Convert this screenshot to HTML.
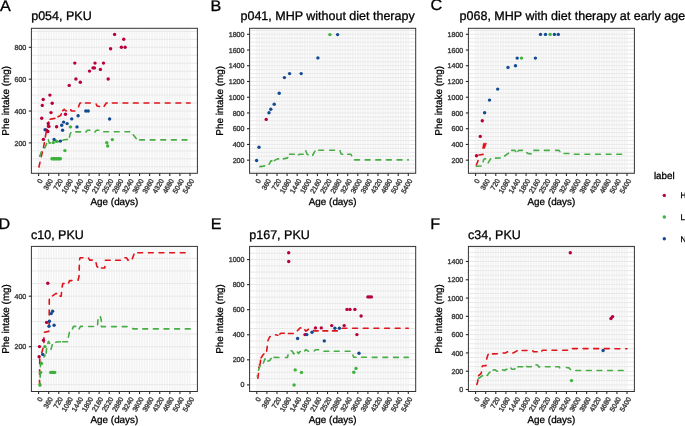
<!DOCTYPE html><html><head><meta charset="utf-8"><style>html,body{margin:0;padding:0;background:#fff;width:685px;height:426px;overflow:hidden}svg{display:block;will-change:transform} text{text-rendering:geometricPrecision} .t{stroke-width:0.35px} .tk{stroke:#444;stroke-width:0.4px} .tb{stroke:#000;stroke-width:0.3px}</style></head><body>
<svg width="685" height="426" viewBox="0 0 685 426" font-family='"Liberation Sans", sans-serif'>
<rect width="685" height="426" fill="#fff"/>
<g id="pA">
<rect x="38.10" y="28.3" width="152.40" height="145.00" fill="#F3F3F3"/>
<line x1="39.86" x2="39.86" y1="28.3" y2="173.3" stroke="#FDFDFD" stroke-width="1.0"/>
<line x1="42.39" x2="42.39" y1="28.3" y2="173.3" stroke="#FDFDFD" stroke-width="1.0"/>
<line x1="44.91" x2="44.91" y1="28.3" y2="173.3" stroke="#FDFDFD" stroke-width="1.0"/>
<line x1="47.43" x2="47.43" y1="28.3" y2="173.3" stroke="#FDFDFD" stroke-width="1.0"/>
<line x1="49.95" x2="49.95" y1="28.3" y2="173.3" stroke="#FDFDFD" stroke-width="1.0"/>
<line x1="52.48" x2="52.48" y1="28.3" y2="173.3" stroke="#FDFDFD" stroke-width="1.0"/>
<line x1="55.00" x2="55.00" y1="28.3" y2="173.3" stroke="#FDFDFD" stroke-width="1.0"/>
<line x1="57.53" x2="57.53" y1="28.3" y2="173.3" stroke="#FDFDFD" stroke-width="1.0"/>
<line x1="60.05" x2="60.05" y1="28.3" y2="173.3" stroke="#FDFDFD" stroke-width="1.0"/>
<line x1="62.57" x2="62.57" y1="28.3" y2="173.3" stroke="#FDFDFD" stroke-width="1.0"/>
<line x1="65.09" x2="65.09" y1="28.3" y2="173.3" stroke="#FDFDFD" stroke-width="1.0"/>
<line x1="67.62" x2="67.62" y1="28.3" y2="173.3" stroke="#FDFDFD" stroke-width="1.0"/>
<line x1="70.14" x2="70.14" y1="28.3" y2="173.3" stroke="#FDFDFD" stroke-width="1.0"/>
<line x1="72.67" x2="72.67" y1="28.3" y2="173.3" stroke="#FDFDFD" stroke-width="1.0"/>
<line x1="75.19" x2="75.19" y1="28.3" y2="173.3" stroke="#FDFDFD" stroke-width="1.0"/>
<line x1="77.71" x2="77.71" y1="28.3" y2="173.3" stroke="#FDFDFD" stroke-width="1.0"/>
<line x1="80.24" x2="80.24" y1="28.3" y2="173.3" stroke="#FDFDFD" stroke-width="1.0"/>
<line x1="82.76" x2="82.76" y1="28.3" y2="173.3" stroke="#FDFDFD" stroke-width="1.0"/>
<line x1="85.28" x2="85.28" y1="28.3" y2="173.3" stroke="#FDFDFD" stroke-width="1.0"/>
<line x1="87.81" x2="87.81" y1="28.3" y2="173.3" stroke="#FDFDFD" stroke-width="1.0"/>
<line x1="90.33" x2="90.33" y1="28.3" y2="173.3" stroke="#FDFDFD" stroke-width="1.0"/>
<line x1="92.85" x2="92.85" y1="28.3" y2="173.3" stroke="#FDFDFD" stroke-width="1.0"/>
<line x1="95.38" x2="95.38" y1="28.3" y2="173.3" stroke="#FDFDFD" stroke-width="1.0"/>
<line x1="97.90" x2="97.90" y1="28.3" y2="173.3" stroke="#FDFDFD" stroke-width="1.0"/>
<line x1="100.42" x2="100.42" y1="28.3" y2="173.3" stroke="#FDFDFD" stroke-width="1.0"/>
<line x1="102.94" x2="102.94" y1="28.3" y2="173.3" stroke="#FDFDFD" stroke-width="1.0"/>
<line x1="105.47" x2="105.47" y1="28.3" y2="173.3" stroke="#FDFDFD" stroke-width="1.0"/>
<line x1="107.99" x2="107.99" y1="28.3" y2="173.3" stroke="#FDFDFD" stroke-width="1.0"/>
<line x1="110.52" x2="110.52" y1="28.3" y2="173.3" stroke="#FDFDFD" stroke-width="1.0"/>
<line x1="113.04" x2="113.04" y1="28.3" y2="173.3" stroke="#FDFDFD" stroke-width="1.0"/>
<line x1="115.56" x2="115.56" y1="28.3" y2="173.3" stroke="#FDFDFD" stroke-width="1.0"/>
<line x1="118.09" x2="118.09" y1="28.3" y2="173.3" stroke="#FDFDFD" stroke-width="1.0"/>
<line x1="120.61" x2="120.61" y1="28.3" y2="173.3" stroke="#FDFDFD" stroke-width="1.0"/>
<line x1="123.13" x2="123.13" y1="28.3" y2="173.3" stroke="#FDFDFD" stroke-width="1.0"/>
<line x1="125.66" x2="125.66" y1="28.3" y2="173.3" stroke="#FDFDFD" stroke-width="1.0"/>
<line x1="128.18" x2="128.18" y1="28.3" y2="173.3" stroke="#FDFDFD" stroke-width="1.0"/>
<line x1="130.70" x2="130.70" y1="28.3" y2="173.3" stroke="#FDFDFD" stroke-width="1.0"/>
<line x1="133.22" x2="133.22" y1="28.3" y2="173.3" stroke="#FDFDFD" stroke-width="1.0"/>
<line x1="135.75" x2="135.75" y1="28.3" y2="173.3" stroke="#FDFDFD" stroke-width="1.0"/>
<line x1="138.27" x2="138.27" y1="28.3" y2="173.3" stroke="#FDFDFD" stroke-width="1.0"/>
<line x1="140.80" x2="140.80" y1="28.3" y2="173.3" stroke="#FDFDFD" stroke-width="1.0"/>
<line x1="143.32" x2="143.32" y1="28.3" y2="173.3" stroke="#FDFDFD" stroke-width="1.0"/>
<line x1="145.84" x2="145.84" y1="28.3" y2="173.3" stroke="#FDFDFD" stroke-width="1.0"/>
<line x1="148.37" x2="148.37" y1="28.3" y2="173.3" stroke="#FDFDFD" stroke-width="1.0"/>
<line x1="150.89" x2="150.89" y1="28.3" y2="173.3" stroke="#FDFDFD" stroke-width="1.0"/>
<line x1="153.41" x2="153.41" y1="28.3" y2="173.3" stroke="#FDFDFD" stroke-width="1.0"/>
<line x1="155.94" x2="155.94" y1="28.3" y2="173.3" stroke="#FDFDFD" stroke-width="1.0"/>
<line x1="158.46" x2="158.46" y1="28.3" y2="173.3" stroke="#FDFDFD" stroke-width="1.0"/>
<line x1="160.98" x2="160.98" y1="28.3" y2="173.3" stroke="#FDFDFD" stroke-width="1.0"/>
<line x1="163.50" x2="163.50" y1="28.3" y2="173.3" stroke="#FDFDFD" stroke-width="1.0"/>
<line x1="166.03" x2="166.03" y1="28.3" y2="173.3" stroke="#FDFDFD" stroke-width="1.0"/>
<line x1="168.55" x2="168.55" y1="28.3" y2="173.3" stroke="#FDFDFD" stroke-width="1.0"/>
<line x1="171.07" x2="171.07" y1="28.3" y2="173.3" stroke="#FDFDFD" stroke-width="1.0"/>
<line x1="173.60" x2="173.60" y1="28.3" y2="173.3" stroke="#FDFDFD" stroke-width="1.0"/>
<line x1="176.12" x2="176.12" y1="28.3" y2="173.3" stroke="#FDFDFD" stroke-width="1.0"/>
<line x1="178.65" x2="178.65" y1="28.3" y2="173.3" stroke="#FDFDFD" stroke-width="1.0"/>
<line x1="181.17" x2="181.17" y1="28.3" y2="173.3" stroke="#FDFDFD" stroke-width="1.0"/>
<line x1="183.69" x2="183.69" y1="28.3" y2="173.3" stroke="#FDFDFD" stroke-width="1.0"/>
<line x1="186.22" x2="186.22" y1="28.3" y2="173.3" stroke="#FDFDFD" stroke-width="1.0"/>
<line x1="188.74" x2="188.74" y1="28.3" y2="173.3" stroke="#FDFDFD" stroke-width="1.0"/>
<line x1="31.4" x2="197.4" y1="166.79" y2="166.79" stroke="#E9E9E9" stroke-width="1.0"/>
<line x1="31.4" x2="197.4" y1="158.83" y2="158.83" stroke="#E9E9E9" stroke-width="1.0"/>
<line x1="31.4" x2="197.4" y1="150.86" y2="150.86" stroke="#E9E9E9" stroke-width="1.0"/>
<line x1="31.4" x2="197.4" y1="142.90" y2="142.90" stroke="#E9E9E9" stroke-width="1.0"/>
<line x1="31.4" x2="197.4" y1="134.93" y2="134.93" stroke="#E9E9E9" stroke-width="1.0"/>
<line x1="31.4" x2="197.4" y1="126.97" y2="126.97" stroke="#E9E9E9" stroke-width="1.0"/>
<line x1="31.4" x2="197.4" y1="119.00" y2="119.00" stroke="#E9E9E9" stroke-width="1.0"/>
<line x1="31.4" x2="197.4" y1="111.04" y2="111.04" stroke="#E9E9E9" stroke-width="1.0"/>
<line x1="31.4" x2="197.4" y1="103.07" y2="103.07" stroke="#E9E9E9" stroke-width="1.0"/>
<line x1="31.4" x2="197.4" y1="95.10" y2="95.10" stroke="#E9E9E9" stroke-width="1.0"/>
<line x1="31.4" x2="197.4" y1="87.14" y2="87.14" stroke="#E9E9E9" stroke-width="1.0"/>
<line x1="31.4" x2="197.4" y1="79.17" y2="79.17" stroke="#E9E9E9" stroke-width="1.0"/>
<line x1="31.4" x2="197.4" y1="71.21" y2="71.21" stroke="#E9E9E9" stroke-width="1.0"/>
<line x1="31.4" x2="197.4" y1="63.24" y2="63.24" stroke="#E9E9E9" stroke-width="1.0"/>
<line x1="31.4" x2="197.4" y1="55.28" y2="55.28" stroke="#E9E9E9" stroke-width="1.0"/>
<line x1="31.4" x2="197.4" y1="47.31" y2="47.31" stroke="#E9E9E9" stroke-width="1.0"/>
<line x1="31.4" x2="197.4" y1="39.35" y2="39.35" stroke="#E9E9E9" stroke-width="1.0"/>
<line x1="31.4" x2="197.4" y1="31.38" y2="31.38" stroke="#E9E9E9" stroke-width="1.0"/>
<polyline points="38.60,168.50 40.50,160.00 42.95,149.74" fill="none" stroke="#E0121A" stroke-width="1.6" stroke-dasharray="4.8 5.83" stroke-dashoffset="9.13" stroke-linecap="round" stroke-linejoin="round"/>
<polyline points="42.95,149.74 43.60,147.00 46.00,133.00 48.60,122.00 49.00,121.06" fill="none" stroke="#E0121A" stroke-width="1.6" stroke-dasharray="4.8 5.83" stroke-dashoffset="8.33" stroke-linecap="round" stroke-linejoin="round"/>
<polyline points="49.00,121.06 49.70,119.40 54.70,118.40 55.89,117.80" fill="none" stroke="#E0121A" stroke-width="1.6" stroke-dasharray="4.8 5.83" stroke-dashoffset="8.33" stroke-linecap="round" stroke-linejoin="round"/>
<polyline points="55.89,117.80 57.50,117.00 60.60,115.60 61.74,112.68" fill="none" stroke="#E0121A" stroke-width="1.6" stroke-dasharray="4.8 5.83" stroke-dashoffset="8.33" stroke-linecap="round" stroke-linejoin="round"/>
<polyline points="61.74,112.68 62.40,111.00 64.20,109.30 66.00,111.00 68.00,110.00 68.77,109.79" fill="none" stroke="#E0121A" stroke-width="1.6" stroke-dasharray="4.8 5.83" stroke-dashoffset="8.33" stroke-linecap="round" stroke-linejoin="round"/>
<polyline points="68.77,109.79 70.50,109.30 71.50,111.00 75.00,111.00 78.00,108.00 80.00,103.00 83.20,103.00" fill="none" stroke="#E0121A" stroke-width="1.6" stroke-dasharray="4.8 5.83" stroke-dashoffset="8.33" stroke-linecap="round" stroke-linejoin="round"/>
<polyline points="83.20,103.00 91.00,103.00 94.21,103.32" fill="none" stroke="#E0121A" stroke-width="1.6" stroke-dasharray="4.8 5.83" stroke-dashoffset="8.33" stroke-linecap="round" stroke-linejoin="round"/>
<polyline points="94.21,103.32 96.00,103.50 97.00,106.00 99.50,106.50 102.10,106.62" fill="none" stroke="#E0121A" stroke-width="1.6" stroke-dasharray="4.8 5.83" stroke-dashoffset="8.33" stroke-linecap="round" stroke-linejoin="round"/>
<polyline points="102.10,106.62 103.90,106.70 106.30,103.00 110.10,103.00" fill="none" stroke="#E0121A" stroke-width="1.6" stroke-dasharray="4.8 5.83" stroke-dashoffset="8.33" stroke-linecap="round" stroke-linejoin="round"/>
<polyline points="110.10,103.00 131.10,103.00" fill="none" stroke="#E0121A" stroke-width="1.6" stroke-dasharray="4.8 5.83" stroke-dashoffset="8.33" stroke-linecap="round" stroke-linejoin="round"/>
<polyline points="131.10,103.00 190.10,103.00" fill="none" stroke="#E0121A" stroke-width="1.6" stroke-dasharray="4.8 5.83" stroke-dashoffset="8.33" stroke-linecap="round" stroke-linejoin="round"/>
<polyline points="38.90,158.50 41.30,152.00 43.37,149.81" fill="none" stroke="#47AD45" stroke-width="1.6" stroke-dasharray="4.8 5.83" stroke-dashoffset="8.28" stroke-linecap="round" stroke-linejoin="round"/>
<polyline points="43.37,149.81 44.60,148.50 46.30,144.40 47.56,141.08" fill="none" stroke="#47AD45" stroke-width="1.6" stroke-dasharray="4.8 5.83" stroke-dashoffset="8.33" stroke-linecap="round" stroke-linejoin="round"/>
<polyline points="47.56,141.08 48.20,139.40 49.40,143.20 57.00,142.00 60.58,140.92" fill="none" stroke="#47AD45" stroke-width="1.6" stroke-dasharray="4.8 5.83" stroke-dashoffset="8.33" stroke-linecap="round" stroke-linejoin="round"/>
<polyline points="60.58,140.92 62.30,140.40 65.40,139.60 68.50,139.40 68.57,139.24" fill="none" stroke="#47AD45" stroke-width="1.6" stroke-dasharray="4.8 5.83" stroke-dashoffset="8.33" stroke-linecap="round" stroke-linejoin="round"/>
<polyline points="68.57,139.24 69.30,137.60 70.40,133.40 71.50,131.80 73.50,131.81" fill="none" stroke="#47AD45" stroke-width="1.6" stroke-dasharray="4.8 5.83" stroke-dashoffset="8.33" stroke-linecap="round" stroke-linejoin="round"/>
<polyline points="73.50,131.81 83.60,131.88" fill="none" stroke="#47AD45" stroke-width="1.6" stroke-dasharray="4.8 5.83" stroke-dashoffset="8.33" stroke-linecap="round" stroke-linejoin="round"/>
<polyline points="83.60,131.88 86.00,131.90 87.40,130.30 91.00,130.30 92.70,131.83" fill="none" stroke="#47AD45" stroke-width="1.6" stroke-dasharray="4.8 5.83" stroke-dashoffset="8.33" stroke-linecap="round" stroke-linejoin="round"/>
<polyline points="92.70,131.83 93.00,132.10 95.00,132.10 96.40,130.30 100.00,130.30 101.00,131.80 101.40,131.80" fill="none" stroke="#47AD45" stroke-width="1.6" stroke-dasharray="4.8 5.83" stroke-dashoffset="8.33" stroke-linecap="round" stroke-linejoin="round"/>
<polyline points="101.40,131.80 130.90,131.80 131.81,132.97" fill="none" stroke="#47AD45" stroke-width="1.6" stroke-dasharray="4.8 5.83" stroke-dashoffset="8.33" stroke-linecap="round" stroke-linejoin="round"/>
<polyline points="131.81,132.97 137.20,139.90 137.30,139.90" fill="none" stroke="#47AD45" stroke-width="1.6" stroke-dasharray="4.8 5.83" stroke-dashoffset="8.33" stroke-linecap="round" stroke-linejoin="round"/>
<polyline points="137.30,139.90 190.10,139.90" fill="none" stroke="#47AD45" stroke-width="1.6" stroke-dasharray="4.8 5.83" stroke-dashoffset="8.33" stroke-linecap="round" stroke-linejoin="round"/>
<circle cx="53.30" cy="142.60" r="1.7" fill="#3DB23D"/>
<circle cx="56.50" cy="141.30" r="1.7" fill="#3DB23D"/>
<circle cx="64.90" cy="150.60" r="1.7" fill="#3DB23D"/>
<circle cx="70.40" cy="126.90" r="1.7" fill="#3DB23D"/>
<circle cx="106.80" cy="142.70" r="1.7" fill="#3DB23D"/>
<circle cx="107.70" cy="146.00" r="1.7" fill="#3DB23D"/>
<circle cx="112.30" cy="139.60" r="1.7" fill="#3DB23D"/>
<circle cx="52.00" cy="158.70" r="1.7" fill="#3DB23D"/>
<circle cx="53.05" cy="158.70" r="1.7" fill="#3DB23D"/>
<circle cx="54.10" cy="158.70" r="1.7" fill="#3DB23D"/>
<circle cx="55.15" cy="158.70" r="1.7" fill="#3DB23D"/>
<circle cx="56.20" cy="158.70" r="1.7" fill="#3DB23D"/>
<circle cx="57.25" cy="158.70" r="1.7" fill="#3DB23D"/>
<circle cx="58.30" cy="158.70" r="1.7" fill="#3DB23D"/>
<circle cx="59.35" cy="158.70" r="1.7" fill="#3DB23D"/>
<circle cx="60.40" cy="158.70" r="1.7" fill="#3DB23D"/>
<circle cx="45.10" cy="129.80" r="1.7" fill="#134A92"/>
<circle cx="54.10" cy="139.40" r="1.7" fill="#134A92"/>
<circle cx="60.40" cy="141.10" r="1.7" fill="#134A92"/>
<circle cx="61.70" cy="125.20" r="1.7" fill="#134A92"/>
<circle cx="62.60" cy="130.20" r="1.7" fill="#134A92"/>
<circle cx="63.60" cy="122.10" r="1.7" fill="#134A92"/>
<circle cx="67.10" cy="123.60" r="1.7" fill="#134A92"/>
<circle cx="71.70" cy="118.90" r="1.7" fill="#134A92"/>
<circle cx="77.00" cy="126.90" r="1.7" fill="#134A92"/>
<circle cx="78.10" cy="115.70" r="1.7" fill="#134A92"/>
<circle cx="85.80" cy="111.00" r="1.7" fill="#134A92"/>
<circle cx="88.20" cy="111.00" r="1.7" fill="#134A92"/>
<circle cx="109.60" cy="119.00" r="1.7" fill="#134A92"/>
<circle cx="114.60" cy="34.40" r="1.7" fill="#B7003A"/>
<circle cx="123.75" cy="39.30" r="1.7" fill="#B7003A"/>
<circle cx="121.40" cy="47.30" r="1.7" fill="#B7003A"/>
<circle cx="125.10" cy="47.30" r="1.7" fill="#B7003A"/>
<circle cx="110.60" cy="48.80" r="1.7" fill="#B7003A"/>
<circle cx="74.80" cy="63.10" r="1.7" fill="#B7003A"/>
<circle cx="95.00" cy="63.10" r="1.7" fill="#B7003A"/>
<circle cx="103.50" cy="63.10" r="1.7" fill="#B7003A"/>
<circle cx="93.00" cy="67.90" r="1.7" fill="#B7003A"/>
<circle cx="94.40" cy="67.90" r="1.7" fill="#B7003A"/>
<circle cx="100.40" cy="69.40" r="1.7" fill="#B7003A"/>
<circle cx="89.50" cy="71.10" r="1.7" fill="#B7003A"/>
<circle cx="75.90" cy="79.00" r="1.7" fill="#B7003A"/>
<circle cx="108.20" cy="79.00" r="1.7" fill="#B7003A"/>
<circle cx="80.30" cy="82.20" r="1.7" fill="#B7003A"/>
<circle cx="69.20" cy="85.40" r="1.7" fill="#B7003A"/>
<circle cx="49.90" cy="95.10" r="1.7" fill="#B7003A"/>
<circle cx="43.20" cy="99.50" r="1.7" fill="#B7003A"/>
<circle cx="52.20" cy="103.30" r="1.7" fill="#B7003A"/>
<circle cx="42.30" cy="105.40" r="1.7" fill="#B7003A"/>
<circle cx="51.00" cy="112.60" r="1.7" fill="#B7003A"/>
<circle cx="65.50" cy="114.30" r="1.7" fill="#B7003A"/>
<circle cx="41.70" cy="118.20" r="1.7" fill="#B7003A"/>
<circle cx="48.30" cy="123.40" r="1.7" fill="#B7003A"/>
<circle cx="48.90" cy="126.50" r="1.7" fill="#B7003A"/>
<circle cx="56.60" cy="126.80" r="1.7" fill="#B7003A"/>
<circle cx="46.50" cy="130.10" r="1.7" fill="#B7003A"/>
<circle cx="47.90" cy="131.50" r="1.7" fill="#B7003A"/>
<circle cx="43.40" cy="139.40" r="1.7" fill="#B7003A"/>
<rect x="31.4" y="28.3" width="166.00" height="145.00" fill="none" stroke="#333" stroke-width="1.0"/>
<line x1="28.80" x2="31.4" y1="142.90" y2="142.90" stroke="#2A2A2A" stroke-width="1.1"/>
<text transform="translate(26.30,145.50) scale(1,1.0)" font-size="7.1" fill="#444" class="tk" text-anchor="end">200</text>
<line x1="28.80" x2="31.4" y1="111.04" y2="111.04" stroke="#2A2A2A" stroke-width="1.1"/>
<text transform="translate(26.30,113.64) scale(1,1.0)" font-size="7.1" fill="#444" class="tk" text-anchor="end">400</text>
<line x1="28.80" x2="31.4" y1="79.17" y2="79.17" stroke="#2A2A2A" stroke-width="1.1"/>
<text transform="translate(26.30,81.77) scale(1,1.0)" font-size="7.1" fill="#444" class="tk" text-anchor="end">600</text>
<line x1="28.80" x2="31.4" y1="47.31" y2="47.31" stroke="#2A2A2A" stroke-width="1.1"/>
<text transform="translate(26.30,49.91) scale(1,1.0)" font-size="7.1" fill="#444" class="tk" text-anchor="end">800</text>
<line x1="38.60" x2="38.60" y1="173.3" y2="175.90" stroke="#2A2A2A" stroke-width="1.1"/>
<text transform="translate(43.00,180.60) rotate(-60) scale(1,1.0)" font-size="7.0" fill="#444" class="tk" text-anchor="end">0</text>
<line x1="48.69" x2="48.69" y1="173.3" y2="175.90" stroke="#2A2A2A" stroke-width="1.1"/>
<text transform="translate(53.09,180.60) rotate(-60) scale(1,1.0)" font-size="7.0" fill="#444" class="tk" text-anchor="end">360</text>
<line x1="58.79" x2="58.79" y1="173.3" y2="175.90" stroke="#2A2A2A" stroke-width="1.1"/>
<text transform="translate(63.19,180.60) rotate(-60) scale(1,1.0)" font-size="7.0" fill="#444" class="tk" text-anchor="end">720</text>
<line x1="68.88" x2="68.88" y1="173.3" y2="175.90" stroke="#2A2A2A" stroke-width="1.1"/>
<text transform="translate(73.28,180.60) rotate(-60) scale(1,1.0)" font-size="7.0" fill="#444" class="tk" text-anchor="end">1080</text>
<line x1="78.97" x2="78.97" y1="173.3" y2="175.90" stroke="#2A2A2A" stroke-width="1.1"/>
<text transform="translate(83.37,180.60) rotate(-60) scale(1,1.0)" font-size="7.0" fill="#444" class="tk" text-anchor="end">1440</text>
<line x1="89.07" x2="89.07" y1="173.3" y2="175.90" stroke="#2A2A2A" stroke-width="1.1"/>
<text transform="translate(93.47,180.60) rotate(-60) scale(1,1.0)" font-size="7.0" fill="#444" class="tk" text-anchor="end">1800</text>
<line x1="99.16" x2="99.16" y1="173.3" y2="175.90" stroke="#2A2A2A" stroke-width="1.1"/>
<text transform="translate(103.56,180.60) rotate(-60) scale(1,1.0)" font-size="7.0" fill="#444" class="tk" text-anchor="end">2160</text>
<line x1="109.25" x2="109.25" y1="173.3" y2="175.90" stroke="#2A2A2A" stroke-width="1.1"/>
<text transform="translate(113.65,180.60) rotate(-60) scale(1,1.0)" font-size="7.0" fill="#444" class="tk" text-anchor="end">2520</text>
<line x1="119.35" x2="119.35" y1="173.3" y2="175.90" stroke="#2A2A2A" stroke-width="1.1"/>
<text transform="translate(123.75,180.60) rotate(-60) scale(1,1.0)" font-size="7.0" fill="#444" class="tk" text-anchor="end">2880</text>
<line x1="129.44" x2="129.44" y1="173.3" y2="175.90" stroke="#2A2A2A" stroke-width="1.1"/>
<text transform="translate(133.84,180.60) rotate(-60) scale(1,1.0)" font-size="7.0" fill="#444" class="tk" text-anchor="end">3240</text>
<line x1="139.53" x2="139.53" y1="173.3" y2="175.90" stroke="#2A2A2A" stroke-width="1.1"/>
<text transform="translate(143.93,180.60) rotate(-60) scale(1,1.0)" font-size="7.0" fill="#444" class="tk" text-anchor="end">3600</text>
<line x1="149.63" x2="149.63" y1="173.3" y2="175.90" stroke="#2A2A2A" stroke-width="1.1"/>
<text transform="translate(154.03,180.60) rotate(-60) scale(1,1.0)" font-size="7.0" fill="#444" class="tk" text-anchor="end">3960</text>
<line x1="159.72" x2="159.72" y1="173.3" y2="175.90" stroke="#2A2A2A" stroke-width="1.1"/>
<text transform="translate(164.12,180.60) rotate(-60) scale(1,1.0)" font-size="7.0" fill="#444" class="tk" text-anchor="end">4320</text>
<line x1="169.81" x2="169.81" y1="173.3" y2="175.90" stroke="#2A2A2A" stroke-width="1.1"/>
<text transform="translate(174.21,180.60) rotate(-60) scale(1,1.0)" font-size="7.0" fill="#444" class="tk" text-anchor="end">4680</text>
<line x1="179.91" x2="179.91" y1="173.3" y2="175.90" stroke="#2A2A2A" stroke-width="1.1"/>
<text transform="translate(184.31,180.60) rotate(-60) scale(1,1.0)" font-size="7.0" fill="#444" class="tk" text-anchor="end">5040</text>
<line x1="190.00" x2="190.00" y1="173.3" y2="175.90" stroke="#2A2A2A" stroke-width="1.1"/>
<text transform="translate(194.40,180.60) rotate(-60) scale(1,1.0)" font-size="7.0" fill="#444" class="tk" text-anchor="end">5400</text>
<text transform="translate(114.40,205.20) scale(1,1.0)" font-size="9.9" fill="#000" class="tb" text-anchor="middle">Age (days)</text>
<text transform="translate(9.29,100.80) rotate(-90) scale(1,1.0)" font-size="9.9" fill="#000" class="tb" text-anchor="middle">Phe intake (mg)</text>
<text transform="translate(31.2,20.10) scale(1,1.0)" font-size="12.5" fill="#000" class="tb">p054, PKU</text>
</g>
<g id="pB">
<rect x="256.30" y="28.3" width="152.50" height="145.00" fill="#F3F3F3"/>
<line x1="258.06" x2="258.06" y1="28.3" y2="173.3" stroke="#FDFDFD" stroke-width="1.0"/>
<line x1="260.59" x2="260.59" y1="28.3" y2="173.3" stroke="#FDFDFD" stroke-width="1.0"/>
<line x1="263.11" x2="263.11" y1="28.3" y2="173.3" stroke="#FDFDFD" stroke-width="1.0"/>
<line x1="265.64" x2="265.64" y1="28.3" y2="173.3" stroke="#FDFDFD" stroke-width="1.0"/>
<line x1="268.16" x2="268.16" y1="28.3" y2="173.3" stroke="#FDFDFD" stroke-width="1.0"/>
<line x1="270.69" x2="270.69" y1="28.3" y2="173.3" stroke="#FDFDFD" stroke-width="1.0"/>
<line x1="273.21" x2="273.21" y1="28.3" y2="173.3" stroke="#FDFDFD" stroke-width="1.0"/>
<line x1="275.74" x2="275.74" y1="28.3" y2="173.3" stroke="#FDFDFD" stroke-width="1.0"/>
<line x1="278.26" x2="278.26" y1="28.3" y2="173.3" stroke="#FDFDFD" stroke-width="1.0"/>
<line x1="280.79" x2="280.79" y1="28.3" y2="173.3" stroke="#FDFDFD" stroke-width="1.0"/>
<line x1="283.31" x2="283.31" y1="28.3" y2="173.3" stroke="#FDFDFD" stroke-width="1.0"/>
<line x1="285.84" x2="285.84" y1="28.3" y2="173.3" stroke="#FDFDFD" stroke-width="1.0"/>
<line x1="288.36" x2="288.36" y1="28.3" y2="173.3" stroke="#FDFDFD" stroke-width="1.0"/>
<line x1="290.89" x2="290.89" y1="28.3" y2="173.3" stroke="#FDFDFD" stroke-width="1.0"/>
<line x1="293.41" x2="293.41" y1="28.3" y2="173.3" stroke="#FDFDFD" stroke-width="1.0"/>
<line x1="295.94" x2="295.94" y1="28.3" y2="173.3" stroke="#FDFDFD" stroke-width="1.0"/>
<line x1="298.46" x2="298.46" y1="28.3" y2="173.3" stroke="#FDFDFD" stroke-width="1.0"/>
<line x1="300.99" x2="300.99" y1="28.3" y2="173.3" stroke="#FDFDFD" stroke-width="1.0"/>
<line x1="303.51" x2="303.51" y1="28.3" y2="173.3" stroke="#FDFDFD" stroke-width="1.0"/>
<line x1="306.04" x2="306.04" y1="28.3" y2="173.3" stroke="#FDFDFD" stroke-width="1.0"/>
<line x1="308.56" x2="308.56" y1="28.3" y2="173.3" stroke="#FDFDFD" stroke-width="1.0"/>
<line x1="311.09" x2="311.09" y1="28.3" y2="173.3" stroke="#FDFDFD" stroke-width="1.0"/>
<line x1="313.61" x2="313.61" y1="28.3" y2="173.3" stroke="#FDFDFD" stroke-width="1.0"/>
<line x1="316.14" x2="316.14" y1="28.3" y2="173.3" stroke="#FDFDFD" stroke-width="1.0"/>
<line x1="318.66" x2="318.66" y1="28.3" y2="173.3" stroke="#FDFDFD" stroke-width="1.0"/>
<line x1="321.19" x2="321.19" y1="28.3" y2="173.3" stroke="#FDFDFD" stroke-width="1.0"/>
<line x1="323.71" x2="323.71" y1="28.3" y2="173.3" stroke="#FDFDFD" stroke-width="1.0"/>
<line x1="326.24" x2="326.24" y1="28.3" y2="173.3" stroke="#FDFDFD" stroke-width="1.0"/>
<line x1="328.76" x2="328.76" y1="28.3" y2="173.3" stroke="#FDFDFD" stroke-width="1.0"/>
<line x1="331.29" x2="331.29" y1="28.3" y2="173.3" stroke="#FDFDFD" stroke-width="1.0"/>
<line x1="333.81" x2="333.81" y1="28.3" y2="173.3" stroke="#FDFDFD" stroke-width="1.0"/>
<line x1="336.34" x2="336.34" y1="28.3" y2="173.3" stroke="#FDFDFD" stroke-width="1.0"/>
<line x1="338.86" x2="338.86" y1="28.3" y2="173.3" stroke="#FDFDFD" stroke-width="1.0"/>
<line x1="341.39" x2="341.39" y1="28.3" y2="173.3" stroke="#FDFDFD" stroke-width="1.0"/>
<line x1="343.91" x2="343.91" y1="28.3" y2="173.3" stroke="#FDFDFD" stroke-width="1.0"/>
<line x1="346.44" x2="346.44" y1="28.3" y2="173.3" stroke="#FDFDFD" stroke-width="1.0"/>
<line x1="348.96" x2="348.96" y1="28.3" y2="173.3" stroke="#FDFDFD" stroke-width="1.0"/>
<line x1="351.49" x2="351.49" y1="28.3" y2="173.3" stroke="#FDFDFD" stroke-width="1.0"/>
<line x1="354.01" x2="354.01" y1="28.3" y2="173.3" stroke="#FDFDFD" stroke-width="1.0"/>
<line x1="356.54" x2="356.54" y1="28.3" y2="173.3" stroke="#FDFDFD" stroke-width="1.0"/>
<line x1="359.06" x2="359.06" y1="28.3" y2="173.3" stroke="#FDFDFD" stroke-width="1.0"/>
<line x1="361.59" x2="361.59" y1="28.3" y2="173.3" stroke="#FDFDFD" stroke-width="1.0"/>
<line x1="364.11" x2="364.11" y1="28.3" y2="173.3" stroke="#FDFDFD" stroke-width="1.0"/>
<line x1="366.64" x2="366.64" y1="28.3" y2="173.3" stroke="#FDFDFD" stroke-width="1.0"/>
<line x1="369.16" x2="369.16" y1="28.3" y2="173.3" stroke="#FDFDFD" stroke-width="1.0"/>
<line x1="371.69" x2="371.69" y1="28.3" y2="173.3" stroke="#FDFDFD" stroke-width="1.0"/>
<line x1="374.21" x2="374.21" y1="28.3" y2="173.3" stroke="#FDFDFD" stroke-width="1.0"/>
<line x1="376.74" x2="376.74" y1="28.3" y2="173.3" stroke="#FDFDFD" stroke-width="1.0"/>
<line x1="379.26" x2="379.26" y1="28.3" y2="173.3" stroke="#FDFDFD" stroke-width="1.0"/>
<line x1="381.79" x2="381.79" y1="28.3" y2="173.3" stroke="#FDFDFD" stroke-width="1.0"/>
<line x1="384.31" x2="384.31" y1="28.3" y2="173.3" stroke="#FDFDFD" stroke-width="1.0"/>
<line x1="386.84" x2="386.84" y1="28.3" y2="173.3" stroke="#FDFDFD" stroke-width="1.0"/>
<line x1="389.36" x2="389.36" y1="28.3" y2="173.3" stroke="#FDFDFD" stroke-width="1.0"/>
<line x1="391.89" x2="391.89" y1="28.3" y2="173.3" stroke="#FDFDFD" stroke-width="1.0"/>
<line x1="394.41" x2="394.41" y1="28.3" y2="173.3" stroke="#FDFDFD" stroke-width="1.0"/>
<line x1="396.94" x2="396.94" y1="28.3" y2="173.3" stroke="#FDFDFD" stroke-width="1.0"/>
<line x1="399.46" x2="399.46" y1="28.3" y2="173.3" stroke="#FDFDFD" stroke-width="1.0"/>
<line x1="401.99" x2="401.99" y1="28.3" y2="173.3" stroke="#FDFDFD" stroke-width="1.0"/>
<line x1="404.51" x2="404.51" y1="28.3" y2="173.3" stroke="#FDFDFD" stroke-width="1.0"/>
<line x1="407.04" x2="407.04" y1="28.3" y2="173.3" stroke="#FDFDFD" stroke-width="1.0"/>
<line x1="249.6" x2="415.7" y1="171.98" y2="171.98" stroke="#E9E9E9" stroke-width="1.0"/>
<line x1="249.6" x2="415.7" y1="168.04" y2="168.04" stroke="#E9E9E9" stroke-width="1.0"/>
<line x1="249.6" x2="415.7" y1="164.11" y2="164.11" stroke="#E9E9E9" stroke-width="1.0"/>
<line x1="249.6" x2="415.7" y1="160.18" y2="160.18" stroke="#E9E9E9" stroke-width="1.0"/>
<line x1="249.6" x2="415.7" y1="156.24" y2="156.24" stroke="#E9E9E9" stroke-width="1.0"/>
<line x1="249.6" x2="415.7" y1="152.31" y2="152.31" stroke="#E9E9E9" stroke-width="1.0"/>
<line x1="249.6" x2="415.7" y1="148.37" y2="148.37" stroke="#E9E9E9" stroke-width="1.0"/>
<line x1="249.6" x2="415.7" y1="144.44" y2="144.44" stroke="#E9E9E9" stroke-width="1.0"/>
<line x1="249.6" x2="415.7" y1="140.50" y2="140.50" stroke="#E9E9E9" stroke-width="1.0"/>
<line x1="249.6" x2="415.7" y1="136.57" y2="136.57" stroke="#E9E9E9" stroke-width="1.0"/>
<line x1="249.6" x2="415.7" y1="132.64" y2="132.64" stroke="#E9E9E9" stroke-width="1.0"/>
<line x1="249.6" x2="415.7" y1="128.70" y2="128.70" stroke="#E9E9E9" stroke-width="1.0"/>
<line x1="249.6" x2="415.7" y1="124.77" y2="124.77" stroke="#E9E9E9" stroke-width="1.0"/>
<line x1="249.6" x2="415.7" y1="120.83" y2="120.83" stroke="#E9E9E9" stroke-width="1.0"/>
<line x1="249.6" x2="415.7" y1="116.90" y2="116.90" stroke="#E9E9E9" stroke-width="1.0"/>
<line x1="249.6" x2="415.7" y1="112.96" y2="112.96" stroke="#E9E9E9" stroke-width="1.0"/>
<line x1="249.6" x2="415.7" y1="109.03" y2="109.03" stroke="#E9E9E9" stroke-width="1.0"/>
<line x1="249.6" x2="415.7" y1="105.10" y2="105.10" stroke="#E9E9E9" stroke-width="1.0"/>
<line x1="249.6" x2="415.7" y1="101.16" y2="101.16" stroke="#E9E9E9" stroke-width="1.0"/>
<line x1="249.6" x2="415.7" y1="97.23" y2="97.23" stroke="#E9E9E9" stroke-width="1.0"/>
<line x1="249.6" x2="415.7" y1="93.29" y2="93.29" stroke="#E9E9E9" stroke-width="1.0"/>
<line x1="249.6" x2="415.7" y1="89.36" y2="89.36" stroke="#E9E9E9" stroke-width="1.0"/>
<line x1="249.6" x2="415.7" y1="85.43" y2="85.43" stroke="#E9E9E9" stroke-width="1.0"/>
<line x1="249.6" x2="415.7" y1="81.49" y2="81.49" stroke="#E9E9E9" stroke-width="1.0"/>
<line x1="249.6" x2="415.7" y1="77.56" y2="77.56" stroke="#E9E9E9" stroke-width="1.0"/>
<line x1="249.6" x2="415.7" y1="73.62" y2="73.62" stroke="#E9E9E9" stroke-width="1.0"/>
<line x1="249.6" x2="415.7" y1="69.69" y2="69.69" stroke="#E9E9E9" stroke-width="1.0"/>
<line x1="249.6" x2="415.7" y1="65.75" y2="65.75" stroke="#E9E9E9" stroke-width="1.0"/>
<line x1="249.6" x2="415.7" y1="61.82" y2="61.82" stroke="#E9E9E9" stroke-width="1.0"/>
<line x1="249.6" x2="415.7" y1="57.89" y2="57.89" stroke="#E9E9E9" stroke-width="1.0"/>
<line x1="249.6" x2="415.7" y1="53.95" y2="53.95" stroke="#E9E9E9" stroke-width="1.0"/>
<line x1="249.6" x2="415.7" y1="50.02" y2="50.02" stroke="#E9E9E9" stroke-width="1.0"/>
<line x1="249.6" x2="415.7" y1="46.08" y2="46.08" stroke="#E9E9E9" stroke-width="1.0"/>
<line x1="249.6" x2="415.7" y1="42.15" y2="42.15" stroke="#E9E9E9" stroke-width="1.0"/>
<line x1="249.6" x2="415.7" y1="38.21" y2="38.21" stroke="#E9E9E9" stroke-width="1.0"/>
<line x1="249.6" x2="415.7" y1="34.28" y2="34.28" stroke="#E9E9E9" stroke-width="1.0"/>
<line x1="249.6" x2="415.7" y1="30.35" y2="30.35" stroke="#E9E9E9" stroke-width="1.0"/>
<polyline points="257.20,167.00 263.60,166.10 267.28,165.42" fill="none" stroke="#47AD45" stroke-width="1.6" stroke-dasharray="4.8 5.83" stroke-dashoffset="7.91" stroke-linecap="round" stroke-linejoin="round"/>
<polyline points="267.28,165.42 268.50,165.20 270.90,160.90 272.00,160.90" fill="none" stroke="#47AD45" stroke-width="1.6" stroke-dasharray="4.8 5.83" stroke-dashoffset="8.33" stroke-linecap="round" stroke-linejoin="round"/>
<polyline points="272.00,160.90 273.80,160.90 277.50,158.90 281.10,158.97" fill="none" stroke="#47AD45" stroke-width="1.6" stroke-dasharray="4.8 5.83" stroke-dashoffset="8.33" stroke-linecap="round" stroke-linejoin="round"/>
<polyline points="281.10,158.97 282.90,159.00 287.60,157.90 288.23,155.55" fill="none" stroke="#47AD45" stroke-width="1.6" stroke-dasharray="4.8 5.83" stroke-dashoffset="8.33" stroke-linecap="round" stroke-linejoin="round"/>
<polyline points="288.23,155.55 288.60,154.20 296.00,154.20 296.42,154.36" fill="none" stroke="#47AD45" stroke-width="1.6" stroke-dasharray="4.8 5.83" stroke-dashoffset="8.33" stroke-linecap="round" stroke-linejoin="round"/>
<polyline points="296.42,154.36 298.10,155.00 299.60,154.20 303.60,154.20 304.83,151.75" fill="none" stroke="#47AD45" stroke-width="1.6" stroke-dasharray="4.8 5.83" stroke-dashoffset="8.33" stroke-linecap="round" stroke-linejoin="round"/>
<polyline points="304.83,151.75 305.60,150.20 307.00,154.00 309.50,155.70 310.60,155.70" fill="none" stroke="#47AD45" stroke-width="1.6" stroke-dasharray="4.8 5.83" stroke-dashoffset="8.33" stroke-linecap="round" stroke-linejoin="round"/>
<polyline points="310.60,155.70 312.40,155.70 315.50,150.20 316.40,150.20" fill="none" stroke="#47AD45" stroke-width="1.6" stroke-dasharray="4.8 5.83" stroke-dashoffset="8.33" stroke-linecap="round" stroke-linejoin="round"/>
<polyline points="316.40,150.20 327.40,150.25" fill="none" stroke="#47AD45" stroke-width="1.6" stroke-dasharray="4.8 5.83" stroke-dashoffset="8.33" stroke-linecap="round" stroke-linejoin="round"/>
<polyline points="327.40,150.25 338.20,150.29" fill="none" stroke="#47AD45" stroke-width="1.6" stroke-dasharray="4.8 5.83" stroke-dashoffset="8.33" stroke-linecap="round" stroke-linejoin="round"/>
<polyline points="338.20,150.29 339.90,150.30 341.00,153.70 342.40,154.20 345.40,154.20" fill="none" stroke="#47AD45" stroke-width="1.6" stroke-dasharray="4.8 5.83" stroke-dashoffset="8.33" stroke-linecap="round" stroke-linejoin="round"/>
<polyline points="345.40,154.20 350.80,154.20 351.50,155.40 353.01,158.80" fill="none" stroke="#47AD45" stroke-width="1.6" stroke-dasharray="4.8 5.83" stroke-dashoffset="8.33" stroke-linecap="round" stroke-linejoin="round"/>
<polyline points="353.01,158.80 353.50,159.90 408.30,159.90" fill="none" stroke="#47AD45" stroke-width="1.6" stroke-dasharray="4.8 5.83" stroke-dashoffset="8.33" stroke-linecap="round" stroke-linejoin="round"/>
<circle cx="256.60" cy="160.50" r="1.7" fill="#134A92"/>
<circle cx="259.00" cy="147.20" r="1.7" fill="#134A92"/>
<circle cx="269.00" cy="112.80" r="1.7" fill="#134A92"/>
<circle cx="270.80" cy="109.20" r="1.7" fill="#134A92"/>
<circle cx="274.20" cy="104.20" r="1.7" fill="#134A92"/>
<circle cx="279.20" cy="93.20" r="1.7" fill="#134A92"/>
<circle cx="284.40" cy="77.60" r="1.7" fill="#134A92"/>
<circle cx="289.60" cy="73.60" r="1.7" fill="#134A92"/>
<circle cx="301.20" cy="73.60" r="1.7" fill="#134A92"/>
<circle cx="317.90" cy="57.90" r="1.7" fill="#134A92"/>
<circle cx="337.60" cy="34.60" r="1.7" fill="#134A92"/>
<circle cx="266.20" cy="119.40" r="1.7" fill="#B7003A"/>
<circle cx="329.90" cy="34.60" r="1.7" fill="#3DB23D"/>
<rect x="249.6" y="28.3" width="166.10" height="145.00" fill="none" stroke="#333" stroke-width="1.0"/>
<line x1="247.00" x2="249.6" y1="160.18" y2="160.18" stroke="#2A2A2A" stroke-width="1.1"/>
<text transform="translate(244.50,162.78) scale(1,1.0)" font-size="7.1" fill="#444" class="tk" text-anchor="end">200</text>
<line x1="247.00" x2="249.6" y1="144.44" y2="144.44" stroke="#2A2A2A" stroke-width="1.1"/>
<text transform="translate(244.50,147.04) scale(1,1.0)" font-size="7.1" fill="#444" class="tk" text-anchor="end">400</text>
<line x1="247.00" x2="249.6" y1="128.70" y2="128.70" stroke="#2A2A2A" stroke-width="1.1"/>
<text transform="translate(244.50,131.30) scale(1,1.0)" font-size="7.1" fill="#444" class="tk" text-anchor="end">600</text>
<line x1="247.00" x2="249.6" y1="112.96" y2="112.96" stroke="#2A2A2A" stroke-width="1.1"/>
<text transform="translate(244.50,115.56) scale(1,1.0)" font-size="7.1" fill="#444" class="tk" text-anchor="end">800</text>
<line x1="247.00" x2="249.6" y1="97.23" y2="97.23" stroke="#2A2A2A" stroke-width="1.1"/>
<text transform="translate(244.50,99.83) scale(1,1.0)" font-size="7.1" fill="#444" class="tk" text-anchor="end">1000</text>
<line x1="247.00" x2="249.6" y1="81.49" y2="81.49" stroke="#2A2A2A" stroke-width="1.1"/>
<text transform="translate(244.50,84.09) scale(1,1.0)" font-size="7.1" fill="#444" class="tk" text-anchor="end">1200</text>
<line x1="247.00" x2="249.6" y1="65.75" y2="65.75" stroke="#2A2A2A" stroke-width="1.1"/>
<text transform="translate(244.50,68.35) scale(1,1.0)" font-size="7.1" fill="#444" class="tk" text-anchor="end">1400</text>
<line x1="247.00" x2="249.6" y1="50.02" y2="50.02" stroke="#2A2A2A" stroke-width="1.1"/>
<text transform="translate(244.50,52.62) scale(1,1.0)" font-size="7.1" fill="#444" class="tk" text-anchor="end">1600</text>
<line x1="247.00" x2="249.6" y1="34.28" y2="34.28" stroke="#2A2A2A" stroke-width="1.1"/>
<text transform="translate(244.50,36.88) scale(1,1.0)" font-size="7.1" fill="#444" class="tk" text-anchor="end">1800</text>
<line x1="256.80" x2="256.80" y1="173.3" y2="175.90" stroke="#2A2A2A" stroke-width="1.1"/>
<text transform="translate(261.20,180.60) rotate(-60) scale(1,1.0)" font-size="7.0" fill="#444" class="tk" text-anchor="end">0</text>
<line x1="266.90" x2="266.90" y1="173.3" y2="175.90" stroke="#2A2A2A" stroke-width="1.1"/>
<text transform="translate(271.30,180.60) rotate(-60) scale(1,1.0)" font-size="7.0" fill="#444" class="tk" text-anchor="end">360</text>
<line x1="277.00" x2="277.00" y1="173.3" y2="175.90" stroke="#2A2A2A" stroke-width="1.1"/>
<text transform="translate(281.40,180.60) rotate(-60) scale(1,1.0)" font-size="7.0" fill="#444" class="tk" text-anchor="end">720</text>
<line x1="287.10" x2="287.10" y1="173.3" y2="175.90" stroke="#2A2A2A" stroke-width="1.1"/>
<text transform="translate(291.50,180.60) rotate(-60) scale(1,1.0)" font-size="7.0" fill="#444" class="tk" text-anchor="end">1080</text>
<line x1="297.20" x2="297.20" y1="173.3" y2="175.90" stroke="#2A2A2A" stroke-width="1.1"/>
<text transform="translate(301.60,180.60) rotate(-60) scale(1,1.0)" font-size="7.0" fill="#444" class="tk" text-anchor="end">1440</text>
<line x1="307.30" x2="307.30" y1="173.3" y2="175.90" stroke="#2A2A2A" stroke-width="1.1"/>
<text transform="translate(311.70,180.60) rotate(-60) scale(1,1.0)" font-size="7.0" fill="#444" class="tk" text-anchor="end">1800</text>
<line x1="317.40" x2="317.40" y1="173.3" y2="175.90" stroke="#2A2A2A" stroke-width="1.1"/>
<text transform="translate(321.80,180.60) rotate(-60) scale(1,1.0)" font-size="7.0" fill="#444" class="tk" text-anchor="end">2160</text>
<line x1="327.50" x2="327.50" y1="173.3" y2="175.90" stroke="#2A2A2A" stroke-width="1.1"/>
<text transform="translate(331.90,180.60) rotate(-60) scale(1,1.0)" font-size="7.0" fill="#444" class="tk" text-anchor="end">2520</text>
<line x1="337.60" x2="337.60" y1="173.3" y2="175.90" stroke="#2A2A2A" stroke-width="1.1"/>
<text transform="translate(342.00,180.60) rotate(-60) scale(1,1.0)" font-size="7.0" fill="#444" class="tk" text-anchor="end">2880</text>
<line x1="347.70" x2="347.70" y1="173.3" y2="175.90" stroke="#2A2A2A" stroke-width="1.1"/>
<text transform="translate(352.10,180.60) rotate(-60) scale(1,1.0)" font-size="7.0" fill="#444" class="tk" text-anchor="end">3240</text>
<line x1="357.80" x2="357.80" y1="173.3" y2="175.90" stroke="#2A2A2A" stroke-width="1.1"/>
<text transform="translate(362.20,180.60) rotate(-60) scale(1,1.0)" font-size="7.0" fill="#444" class="tk" text-anchor="end">3600</text>
<line x1="367.90" x2="367.90" y1="173.3" y2="175.90" stroke="#2A2A2A" stroke-width="1.1"/>
<text transform="translate(372.30,180.60) rotate(-60) scale(1,1.0)" font-size="7.0" fill="#444" class="tk" text-anchor="end">3960</text>
<line x1="378.00" x2="378.00" y1="173.3" y2="175.90" stroke="#2A2A2A" stroke-width="1.1"/>
<text transform="translate(382.40,180.60) rotate(-60) scale(1,1.0)" font-size="7.0" fill="#444" class="tk" text-anchor="end">4320</text>
<line x1="388.10" x2="388.10" y1="173.3" y2="175.90" stroke="#2A2A2A" stroke-width="1.1"/>
<text transform="translate(392.50,180.60) rotate(-60) scale(1,1.0)" font-size="7.0" fill="#444" class="tk" text-anchor="end">4680</text>
<line x1="398.20" x2="398.20" y1="173.3" y2="175.90" stroke="#2A2A2A" stroke-width="1.1"/>
<text transform="translate(402.60,180.60) rotate(-60) scale(1,1.0)" font-size="7.0" fill="#444" class="tk" text-anchor="end">5040</text>
<line x1="408.30" x2="408.30" y1="173.3" y2="175.90" stroke="#2A2A2A" stroke-width="1.1"/>
<text transform="translate(412.70,180.60) rotate(-60) scale(1,1.0)" font-size="7.0" fill="#444" class="tk" text-anchor="end">5400</text>
<text transform="translate(332.65,205.20) scale(1,1.0)" font-size="9.9" fill="#000" class="tb" text-anchor="middle">Age (days)</text>
<text transform="translate(223.48,100.80) rotate(-90) scale(1,1.0)" font-size="9.9" fill="#000" class="tb" text-anchor="middle">Phe intake (mg)</text>
<text transform="translate(240.5,20.10) scale(1,1.0)" font-size="12.5" fill="#000" class="tb">p041, MHP without diet therapy</text>
</g>
<g id="pC">
<rect x="475.10" y="28.3" width="152.40" height="145.00" fill="#F3F3F3"/>
<line x1="476.86" x2="476.86" y1="28.3" y2="173.3" stroke="#FDFDFD" stroke-width="1.0"/>
<line x1="479.38" x2="479.38" y1="28.3" y2="173.3" stroke="#FDFDFD" stroke-width="1.0"/>
<line x1="481.91" x2="481.91" y1="28.3" y2="173.3" stroke="#FDFDFD" stroke-width="1.0"/>
<line x1="484.43" x2="484.43" y1="28.3" y2="173.3" stroke="#FDFDFD" stroke-width="1.0"/>
<line x1="486.95" x2="486.95" y1="28.3" y2="173.3" stroke="#FDFDFD" stroke-width="1.0"/>
<line x1="489.48" x2="489.48" y1="28.3" y2="173.3" stroke="#FDFDFD" stroke-width="1.0"/>
<line x1="492.00" x2="492.00" y1="28.3" y2="173.3" stroke="#FDFDFD" stroke-width="1.0"/>
<line x1="494.52" x2="494.52" y1="28.3" y2="173.3" stroke="#FDFDFD" stroke-width="1.0"/>
<line x1="497.05" x2="497.05" y1="28.3" y2="173.3" stroke="#FDFDFD" stroke-width="1.0"/>
<line x1="499.57" x2="499.57" y1="28.3" y2="173.3" stroke="#FDFDFD" stroke-width="1.0"/>
<line x1="502.09" x2="502.09" y1="28.3" y2="173.3" stroke="#FDFDFD" stroke-width="1.0"/>
<line x1="504.62" x2="504.62" y1="28.3" y2="173.3" stroke="#FDFDFD" stroke-width="1.0"/>
<line x1="507.14" x2="507.14" y1="28.3" y2="173.3" stroke="#FDFDFD" stroke-width="1.0"/>
<line x1="509.66" x2="509.66" y1="28.3" y2="173.3" stroke="#FDFDFD" stroke-width="1.0"/>
<line x1="512.19" x2="512.19" y1="28.3" y2="173.3" stroke="#FDFDFD" stroke-width="1.0"/>
<line x1="514.71" x2="514.71" y1="28.3" y2="173.3" stroke="#FDFDFD" stroke-width="1.0"/>
<line x1="517.24" x2="517.24" y1="28.3" y2="173.3" stroke="#FDFDFD" stroke-width="1.0"/>
<line x1="519.76" x2="519.76" y1="28.3" y2="173.3" stroke="#FDFDFD" stroke-width="1.0"/>
<line x1="522.28" x2="522.28" y1="28.3" y2="173.3" stroke="#FDFDFD" stroke-width="1.0"/>
<line x1="524.80" x2="524.80" y1="28.3" y2="173.3" stroke="#FDFDFD" stroke-width="1.0"/>
<line x1="527.33" x2="527.33" y1="28.3" y2="173.3" stroke="#FDFDFD" stroke-width="1.0"/>
<line x1="529.85" x2="529.85" y1="28.3" y2="173.3" stroke="#FDFDFD" stroke-width="1.0"/>
<line x1="532.38" x2="532.38" y1="28.3" y2="173.3" stroke="#FDFDFD" stroke-width="1.0"/>
<line x1="534.90" x2="534.90" y1="28.3" y2="173.3" stroke="#FDFDFD" stroke-width="1.0"/>
<line x1="537.42" x2="537.42" y1="28.3" y2="173.3" stroke="#FDFDFD" stroke-width="1.0"/>
<line x1="539.94" x2="539.94" y1="28.3" y2="173.3" stroke="#FDFDFD" stroke-width="1.0"/>
<line x1="542.47" x2="542.47" y1="28.3" y2="173.3" stroke="#FDFDFD" stroke-width="1.0"/>
<line x1="544.99" x2="544.99" y1="28.3" y2="173.3" stroke="#FDFDFD" stroke-width="1.0"/>
<line x1="547.51" x2="547.51" y1="28.3" y2="173.3" stroke="#FDFDFD" stroke-width="1.0"/>
<line x1="550.04" x2="550.04" y1="28.3" y2="173.3" stroke="#FDFDFD" stroke-width="1.0"/>
<line x1="552.56" x2="552.56" y1="28.3" y2="173.3" stroke="#FDFDFD" stroke-width="1.0"/>
<line x1="555.09" x2="555.09" y1="28.3" y2="173.3" stroke="#FDFDFD" stroke-width="1.0"/>
<line x1="557.61" x2="557.61" y1="28.3" y2="173.3" stroke="#FDFDFD" stroke-width="1.0"/>
<line x1="560.13" x2="560.13" y1="28.3" y2="173.3" stroke="#FDFDFD" stroke-width="1.0"/>
<line x1="562.65" x2="562.65" y1="28.3" y2="173.3" stroke="#FDFDFD" stroke-width="1.0"/>
<line x1="565.18" x2="565.18" y1="28.3" y2="173.3" stroke="#FDFDFD" stroke-width="1.0"/>
<line x1="567.70" x2="567.70" y1="28.3" y2="173.3" stroke="#FDFDFD" stroke-width="1.0"/>
<line x1="570.23" x2="570.23" y1="28.3" y2="173.3" stroke="#FDFDFD" stroke-width="1.0"/>
<line x1="572.75" x2="572.75" y1="28.3" y2="173.3" stroke="#FDFDFD" stroke-width="1.0"/>
<line x1="575.27" x2="575.27" y1="28.3" y2="173.3" stroke="#FDFDFD" stroke-width="1.0"/>
<line x1="577.79" x2="577.79" y1="28.3" y2="173.3" stroke="#FDFDFD" stroke-width="1.0"/>
<line x1="580.32" x2="580.32" y1="28.3" y2="173.3" stroke="#FDFDFD" stroke-width="1.0"/>
<line x1="582.84" x2="582.84" y1="28.3" y2="173.3" stroke="#FDFDFD" stroke-width="1.0"/>
<line x1="585.37" x2="585.37" y1="28.3" y2="173.3" stroke="#FDFDFD" stroke-width="1.0"/>
<line x1="587.89" x2="587.89" y1="28.3" y2="173.3" stroke="#FDFDFD" stroke-width="1.0"/>
<line x1="590.41" x2="590.41" y1="28.3" y2="173.3" stroke="#FDFDFD" stroke-width="1.0"/>
<line x1="592.93" x2="592.93" y1="28.3" y2="173.3" stroke="#FDFDFD" stroke-width="1.0"/>
<line x1="595.46" x2="595.46" y1="28.3" y2="173.3" stroke="#FDFDFD" stroke-width="1.0"/>
<line x1="597.98" x2="597.98" y1="28.3" y2="173.3" stroke="#FDFDFD" stroke-width="1.0"/>
<line x1="600.50" x2="600.50" y1="28.3" y2="173.3" stroke="#FDFDFD" stroke-width="1.0"/>
<line x1="603.03" x2="603.03" y1="28.3" y2="173.3" stroke="#FDFDFD" stroke-width="1.0"/>
<line x1="605.55" x2="605.55" y1="28.3" y2="173.3" stroke="#FDFDFD" stroke-width="1.0"/>
<line x1="608.08" x2="608.08" y1="28.3" y2="173.3" stroke="#FDFDFD" stroke-width="1.0"/>
<line x1="610.60" x2="610.60" y1="28.3" y2="173.3" stroke="#FDFDFD" stroke-width="1.0"/>
<line x1="613.12" x2="613.12" y1="28.3" y2="173.3" stroke="#FDFDFD" stroke-width="1.0"/>
<line x1="615.64" x2="615.64" y1="28.3" y2="173.3" stroke="#FDFDFD" stroke-width="1.0"/>
<line x1="618.17" x2="618.17" y1="28.3" y2="173.3" stroke="#FDFDFD" stroke-width="1.0"/>
<line x1="620.69" x2="620.69" y1="28.3" y2="173.3" stroke="#FDFDFD" stroke-width="1.0"/>
<line x1="623.22" x2="623.22" y1="28.3" y2="173.3" stroke="#FDFDFD" stroke-width="1.0"/>
<line x1="625.74" x2="625.74" y1="28.3" y2="173.3" stroke="#FDFDFD" stroke-width="1.0"/>
<line x1="468.4" x2="634.4" y1="171.98" y2="171.98" stroke="#E9E9E9" stroke-width="1.0"/>
<line x1="468.4" x2="634.4" y1="168.04" y2="168.04" stroke="#E9E9E9" stroke-width="1.0"/>
<line x1="468.4" x2="634.4" y1="164.11" y2="164.11" stroke="#E9E9E9" stroke-width="1.0"/>
<line x1="468.4" x2="634.4" y1="160.18" y2="160.18" stroke="#E9E9E9" stroke-width="1.0"/>
<line x1="468.4" x2="634.4" y1="156.24" y2="156.24" stroke="#E9E9E9" stroke-width="1.0"/>
<line x1="468.4" x2="634.4" y1="152.31" y2="152.31" stroke="#E9E9E9" stroke-width="1.0"/>
<line x1="468.4" x2="634.4" y1="148.37" y2="148.37" stroke="#E9E9E9" stroke-width="1.0"/>
<line x1="468.4" x2="634.4" y1="144.44" y2="144.44" stroke="#E9E9E9" stroke-width="1.0"/>
<line x1="468.4" x2="634.4" y1="140.50" y2="140.50" stroke="#E9E9E9" stroke-width="1.0"/>
<line x1="468.4" x2="634.4" y1="136.57" y2="136.57" stroke="#E9E9E9" stroke-width="1.0"/>
<line x1="468.4" x2="634.4" y1="132.64" y2="132.64" stroke="#E9E9E9" stroke-width="1.0"/>
<line x1="468.4" x2="634.4" y1="128.70" y2="128.70" stroke="#E9E9E9" stroke-width="1.0"/>
<line x1="468.4" x2="634.4" y1="124.77" y2="124.77" stroke="#E9E9E9" stroke-width="1.0"/>
<line x1="468.4" x2="634.4" y1="120.83" y2="120.83" stroke="#E9E9E9" stroke-width="1.0"/>
<line x1="468.4" x2="634.4" y1="116.90" y2="116.90" stroke="#E9E9E9" stroke-width="1.0"/>
<line x1="468.4" x2="634.4" y1="112.96" y2="112.96" stroke="#E9E9E9" stroke-width="1.0"/>
<line x1="468.4" x2="634.4" y1="109.03" y2="109.03" stroke="#E9E9E9" stroke-width="1.0"/>
<line x1="468.4" x2="634.4" y1="105.10" y2="105.10" stroke="#E9E9E9" stroke-width="1.0"/>
<line x1="468.4" x2="634.4" y1="101.16" y2="101.16" stroke="#E9E9E9" stroke-width="1.0"/>
<line x1="468.4" x2="634.4" y1="97.23" y2="97.23" stroke="#E9E9E9" stroke-width="1.0"/>
<line x1="468.4" x2="634.4" y1="93.29" y2="93.29" stroke="#E9E9E9" stroke-width="1.0"/>
<line x1="468.4" x2="634.4" y1="89.36" y2="89.36" stroke="#E9E9E9" stroke-width="1.0"/>
<line x1="468.4" x2="634.4" y1="85.43" y2="85.43" stroke="#E9E9E9" stroke-width="1.0"/>
<line x1="468.4" x2="634.4" y1="81.49" y2="81.49" stroke="#E9E9E9" stroke-width="1.0"/>
<line x1="468.4" x2="634.4" y1="77.56" y2="77.56" stroke="#E9E9E9" stroke-width="1.0"/>
<line x1="468.4" x2="634.4" y1="73.62" y2="73.62" stroke="#E9E9E9" stroke-width="1.0"/>
<line x1="468.4" x2="634.4" y1="69.69" y2="69.69" stroke="#E9E9E9" stroke-width="1.0"/>
<line x1="468.4" x2="634.4" y1="65.75" y2="65.75" stroke="#E9E9E9" stroke-width="1.0"/>
<line x1="468.4" x2="634.4" y1="61.82" y2="61.82" stroke="#E9E9E9" stroke-width="1.0"/>
<line x1="468.4" x2="634.4" y1="57.89" y2="57.89" stroke="#E9E9E9" stroke-width="1.0"/>
<line x1="468.4" x2="634.4" y1="53.95" y2="53.95" stroke="#E9E9E9" stroke-width="1.0"/>
<line x1="468.4" x2="634.4" y1="50.02" y2="50.02" stroke="#E9E9E9" stroke-width="1.0"/>
<line x1="468.4" x2="634.4" y1="46.08" y2="46.08" stroke="#E9E9E9" stroke-width="1.0"/>
<line x1="468.4" x2="634.4" y1="42.15" y2="42.15" stroke="#E9E9E9" stroke-width="1.0"/>
<line x1="468.4" x2="634.4" y1="38.21" y2="38.21" stroke="#E9E9E9" stroke-width="1.0"/>
<line x1="468.4" x2="634.4" y1="34.28" y2="34.28" stroke="#E9E9E9" stroke-width="1.0"/>
<line x1="468.4" x2="634.4" y1="30.35" y2="30.35" stroke="#E9E9E9" stroke-width="1.0"/>
<polyline points="475.90,166.00 477.90,161.30 478.26,156.89" fill="none" stroke="#E0121A" stroke-width="1.6" stroke-dasharray="4.8 5.83" stroke-dashoffset="9.50" stroke-linecap="round" stroke-linejoin="round"/>
<polyline points="478.26,156.89 478.40,155.10 483.10,154.40" fill="none" stroke="#E0121A" stroke-width="1.6" stroke-dasharray="4.8 5.83" stroke-dashoffset="8.33" stroke-linecap="round" stroke-linejoin="round"/>
<polyline points="475.80,166.30 481.50,166.00 482.34,163.87" fill="none" stroke="#47AD45" stroke-width="1.6" stroke-dasharray="4.8 5.83" stroke-dashoffset="10.13" stroke-linecap="round" stroke-linejoin="round"/>
<polyline points="482.34,163.87 483.00,162.20 483.80,159.20 485.50,158.60 487.08,161.70" fill="none" stroke="#47AD45" stroke-width="1.6" stroke-dasharray="4.8 5.83" stroke-dashoffset="8.33" stroke-linecap="round" stroke-linejoin="round"/>
<polyline points="487.08,161.70 487.90,163.30 490.80,158.60 493.11,158.24" fill="none" stroke="#47AD45" stroke-width="1.6" stroke-dasharray="4.8 5.83" stroke-dashoffset="8.33" stroke-linecap="round" stroke-linejoin="round"/>
<polyline points="493.11,158.24 494.00,158.10 500.10,158.00 502.50,157.50 502.73,157.34" fill="none" stroke="#47AD45" stroke-width="1.6" stroke-dasharray="4.8 5.83" stroke-dashoffset="8.33" stroke-linecap="round" stroke-linejoin="round"/>
<polyline points="502.73,157.34 504.20,156.30 508.30,153.40 509.93,151.59" fill="none" stroke="#47AD45" stroke-width="1.6" stroke-dasharray="4.8 5.83" stroke-dashoffset="8.33" stroke-linecap="round" stroke-linejoin="round"/>
<polyline points="509.93,151.59 511.00,150.40 514.70,150.40 515.83,151.53" fill="none" stroke="#47AD45" stroke-width="1.6" stroke-dasharray="4.8 5.83" stroke-dashoffset="8.33" stroke-linecap="round" stroke-linejoin="round"/>
<polyline points="515.83,151.53 515.90,151.60 517.60,151.60 518.80,150.40 524.50,150.40 525.09,150.96" fill="none" stroke="#47AD45" stroke-width="1.6" stroke-dasharray="4.8 5.83" stroke-dashoffset="8.33" stroke-linecap="round" stroke-linejoin="round"/>
<polyline points="525.09,150.96 526.40,152.20 527.60,153.40 531.00,153.90 532.15,151.23" fill="none" stroke="#47AD45" stroke-width="1.6" stroke-dasharray="4.8 5.83" stroke-dashoffset="8.33" stroke-linecap="round" stroke-linejoin="round"/>
<polyline points="532.15,151.23 532.50,150.40 542.10,150.40" fill="none" stroke="#47AD45" stroke-width="1.6" stroke-dasharray="4.8 5.83" stroke-dashoffset="8.33" stroke-linecap="round" stroke-linejoin="round"/>
<polyline points="542.10,150.40 553.40,150.40" fill="none" stroke="#47AD45" stroke-width="1.6" stroke-dasharray="4.8 5.83" stroke-dashoffset="8.33" stroke-linecap="round" stroke-linejoin="round"/>
<polyline points="553.40,150.40 559.00,150.40 560.50,152.50 561.50,153.50 561.80,153.50" fill="none" stroke="#47AD45" stroke-width="1.6" stroke-dasharray="4.8 5.83" stroke-dashoffset="8.33" stroke-linecap="round" stroke-linejoin="round"/>
<polyline points="561.80,153.50 569.00,153.50 571.00,154.20 572.00,154.20" fill="none" stroke="#47AD45" stroke-width="1.6" stroke-dasharray="4.8 5.83" stroke-dashoffset="8.33" stroke-linecap="round" stroke-linejoin="round"/>
<polyline points="572.00,154.20 627.00,154.20" fill="none" stroke="#47AD45" stroke-width="1.6" stroke-dasharray="4.8 5.83" stroke-dashoffset="8.33" stroke-linecap="round" stroke-linejoin="round"/>
<polygon points="483.30,143.20 486.60,143.20 484.70,148.60 482.40,148.60" fill="#E0121A" stroke="#E0121A" stroke-width="0.4" stroke-linejoin="round"/>
<circle cx="540.50" cy="34.40" r="1.7" fill="#134A92"/>
<circle cx="545.50" cy="34.40" r="1.7" fill="#134A92"/>
<circle cx="554.40" cy="34.40" r="1.7" fill="#134A92"/>
<circle cx="558.30" cy="34.40" r="1.7" fill="#134A92"/>
<circle cx="517.20" cy="58.10" r="1.7" fill="#134A92"/>
<circle cx="535.40" cy="58.10" r="1.7" fill="#134A92"/>
<circle cx="508.00" cy="67.40" r="1.7" fill="#134A92"/>
<circle cx="515.50" cy="65.70" r="1.7" fill="#134A92"/>
<circle cx="497.70" cy="89.10" r="1.7" fill="#134A92"/>
<circle cx="489.50" cy="100.10" r="1.7" fill="#134A92"/>
<circle cx="484.60" cy="112.70" r="1.7" fill="#134A92"/>
<circle cx="550.10" cy="34.40" r="1.7" fill="#3DB23D"/>
<circle cx="521.50" cy="58.10" r="1.7" fill="#3DB23D"/>
<circle cx="482.30" cy="120.70" r="1.7" fill="#B7003A"/>
<circle cx="480.30" cy="136.40" r="1.7" fill="#B7003A"/>
<circle cx="476.50" cy="155.80" r="1.7" fill="#B7003A"/>
<rect x="468.4" y="28.3" width="166.00" height="145.00" fill="none" stroke="#333" stroke-width="1.0"/>
<line x1="465.80" x2="468.4" y1="160.18" y2="160.18" stroke="#2A2A2A" stroke-width="1.1"/>
<text transform="translate(463.30,162.78) scale(1,1.0)" font-size="7.1" fill="#444" class="tk" text-anchor="end">200</text>
<line x1="465.80" x2="468.4" y1="144.44" y2="144.44" stroke="#2A2A2A" stroke-width="1.1"/>
<text transform="translate(463.30,147.04) scale(1,1.0)" font-size="7.1" fill="#444" class="tk" text-anchor="end">400</text>
<line x1="465.80" x2="468.4" y1="128.70" y2="128.70" stroke="#2A2A2A" stroke-width="1.1"/>
<text transform="translate(463.30,131.30) scale(1,1.0)" font-size="7.1" fill="#444" class="tk" text-anchor="end">600</text>
<line x1="465.80" x2="468.4" y1="112.96" y2="112.96" stroke="#2A2A2A" stroke-width="1.1"/>
<text transform="translate(463.30,115.56) scale(1,1.0)" font-size="7.1" fill="#444" class="tk" text-anchor="end">800</text>
<line x1="465.80" x2="468.4" y1="97.23" y2="97.23" stroke="#2A2A2A" stroke-width="1.1"/>
<text transform="translate(463.30,99.83) scale(1,1.0)" font-size="7.1" fill="#444" class="tk" text-anchor="end">1000</text>
<line x1="465.80" x2="468.4" y1="81.49" y2="81.49" stroke="#2A2A2A" stroke-width="1.1"/>
<text transform="translate(463.30,84.09) scale(1,1.0)" font-size="7.1" fill="#444" class="tk" text-anchor="end">1200</text>
<line x1="465.80" x2="468.4" y1="65.75" y2="65.75" stroke="#2A2A2A" stroke-width="1.1"/>
<text transform="translate(463.30,68.35) scale(1,1.0)" font-size="7.1" fill="#444" class="tk" text-anchor="end">1400</text>
<line x1="465.80" x2="468.4" y1="50.02" y2="50.02" stroke="#2A2A2A" stroke-width="1.1"/>
<text transform="translate(463.30,52.62) scale(1,1.0)" font-size="7.1" fill="#444" class="tk" text-anchor="end">1600</text>
<line x1="465.80" x2="468.4" y1="34.28" y2="34.28" stroke="#2A2A2A" stroke-width="1.1"/>
<text transform="translate(463.30,36.88) scale(1,1.0)" font-size="7.1" fill="#444" class="tk" text-anchor="end">1800</text>
<line x1="475.60" x2="475.60" y1="173.3" y2="175.90" stroke="#2A2A2A" stroke-width="1.1"/>
<text transform="translate(480.00,180.60) rotate(-60) scale(1,1.0)" font-size="7.0" fill="#444" class="tk" text-anchor="end">0</text>
<line x1="485.69" x2="485.69" y1="173.3" y2="175.90" stroke="#2A2A2A" stroke-width="1.1"/>
<text transform="translate(490.09,180.60) rotate(-60) scale(1,1.0)" font-size="7.0" fill="#444" class="tk" text-anchor="end">360</text>
<line x1="495.79" x2="495.79" y1="173.3" y2="175.90" stroke="#2A2A2A" stroke-width="1.1"/>
<text transform="translate(500.19,180.60) rotate(-60) scale(1,1.0)" font-size="7.0" fill="#444" class="tk" text-anchor="end">720</text>
<line x1="505.88" x2="505.88" y1="173.3" y2="175.90" stroke="#2A2A2A" stroke-width="1.1"/>
<text transform="translate(510.28,180.60) rotate(-60) scale(1,1.0)" font-size="7.0" fill="#444" class="tk" text-anchor="end">1080</text>
<line x1="515.97" x2="515.97" y1="173.3" y2="175.90" stroke="#2A2A2A" stroke-width="1.1"/>
<text transform="translate(520.37,180.60) rotate(-60) scale(1,1.0)" font-size="7.0" fill="#444" class="tk" text-anchor="end">1440</text>
<line x1="526.07" x2="526.07" y1="173.3" y2="175.90" stroke="#2A2A2A" stroke-width="1.1"/>
<text transform="translate(530.47,180.60) rotate(-60) scale(1,1.0)" font-size="7.0" fill="#444" class="tk" text-anchor="end">1800</text>
<line x1="536.16" x2="536.16" y1="173.3" y2="175.90" stroke="#2A2A2A" stroke-width="1.1"/>
<text transform="translate(540.56,180.60) rotate(-60) scale(1,1.0)" font-size="7.0" fill="#444" class="tk" text-anchor="end">2160</text>
<line x1="546.25" x2="546.25" y1="173.3" y2="175.90" stroke="#2A2A2A" stroke-width="1.1"/>
<text transform="translate(550.65,180.60) rotate(-60) scale(1,1.0)" font-size="7.0" fill="#444" class="tk" text-anchor="end">2520</text>
<line x1="556.35" x2="556.35" y1="173.3" y2="175.90" stroke="#2A2A2A" stroke-width="1.1"/>
<text transform="translate(560.75,180.60) rotate(-60) scale(1,1.0)" font-size="7.0" fill="#444" class="tk" text-anchor="end">2880</text>
<line x1="566.44" x2="566.44" y1="173.3" y2="175.90" stroke="#2A2A2A" stroke-width="1.1"/>
<text transform="translate(570.84,180.60) rotate(-60) scale(1,1.0)" font-size="7.0" fill="#444" class="tk" text-anchor="end">3240</text>
<line x1="576.53" x2="576.53" y1="173.3" y2="175.90" stroke="#2A2A2A" stroke-width="1.1"/>
<text transform="translate(580.93,180.60) rotate(-60) scale(1,1.0)" font-size="7.0" fill="#444" class="tk" text-anchor="end">3600</text>
<line x1="586.63" x2="586.63" y1="173.3" y2="175.90" stroke="#2A2A2A" stroke-width="1.1"/>
<text transform="translate(591.03,180.60) rotate(-60) scale(1,1.0)" font-size="7.0" fill="#444" class="tk" text-anchor="end">3960</text>
<line x1="596.72" x2="596.72" y1="173.3" y2="175.90" stroke="#2A2A2A" stroke-width="1.1"/>
<text transform="translate(601.12,180.60) rotate(-60) scale(1,1.0)" font-size="7.0" fill="#444" class="tk" text-anchor="end">4320</text>
<line x1="606.81" x2="606.81" y1="173.3" y2="175.90" stroke="#2A2A2A" stroke-width="1.1"/>
<text transform="translate(611.21,180.60) rotate(-60) scale(1,1.0)" font-size="7.0" fill="#444" class="tk" text-anchor="end">4680</text>
<line x1="616.91" x2="616.91" y1="173.3" y2="175.90" stroke="#2A2A2A" stroke-width="1.1"/>
<text transform="translate(621.31,180.60) rotate(-60) scale(1,1.0)" font-size="7.0" fill="#444" class="tk" text-anchor="end">5040</text>
<line x1="627.00" x2="627.00" y1="173.3" y2="175.90" stroke="#2A2A2A" stroke-width="1.1"/>
<text transform="translate(631.40,180.60) rotate(-60) scale(1,1.0)" font-size="7.0" fill="#444" class="tk" text-anchor="end">5400</text>
<text transform="translate(551.40,205.20) scale(1,1.0)" font-size="9.9" fill="#000" class="tb" text-anchor="middle">Age (days)</text>
<text transform="translate(442.28,100.80) rotate(-90) scale(1,1.0)" font-size="9.9" fill="#000" class="tb" text-anchor="middle">Phe intake (mg)</text>
<text transform="translate(459.6,20.10) scale(1,1.0)" font-size="12.5" fill="#000" class="tb">p068, MHP with diet therapy at early age</text>
</g>
<g id="pD">
<rect x="38.10" y="246.4" width="152.40" height="145.10" fill="#F3F3F3"/>
<line x1="39.86" x2="39.86" y1="246.4" y2="391.5" stroke="#FDFDFD" stroke-width="1.0"/>
<line x1="42.39" x2="42.39" y1="246.4" y2="391.5" stroke="#FDFDFD" stroke-width="1.0"/>
<line x1="44.91" x2="44.91" y1="246.4" y2="391.5" stroke="#FDFDFD" stroke-width="1.0"/>
<line x1="47.43" x2="47.43" y1="246.4" y2="391.5" stroke="#FDFDFD" stroke-width="1.0"/>
<line x1="49.95" x2="49.95" y1="246.4" y2="391.5" stroke="#FDFDFD" stroke-width="1.0"/>
<line x1="52.48" x2="52.48" y1="246.4" y2="391.5" stroke="#FDFDFD" stroke-width="1.0"/>
<line x1="55.00" x2="55.00" y1="246.4" y2="391.5" stroke="#FDFDFD" stroke-width="1.0"/>
<line x1="57.53" x2="57.53" y1="246.4" y2="391.5" stroke="#FDFDFD" stroke-width="1.0"/>
<line x1="60.05" x2="60.05" y1="246.4" y2="391.5" stroke="#FDFDFD" stroke-width="1.0"/>
<line x1="62.57" x2="62.57" y1="246.4" y2="391.5" stroke="#FDFDFD" stroke-width="1.0"/>
<line x1="65.09" x2="65.09" y1="246.4" y2="391.5" stroke="#FDFDFD" stroke-width="1.0"/>
<line x1="67.62" x2="67.62" y1="246.4" y2="391.5" stroke="#FDFDFD" stroke-width="1.0"/>
<line x1="70.14" x2="70.14" y1="246.4" y2="391.5" stroke="#FDFDFD" stroke-width="1.0"/>
<line x1="72.67" x2="72.67" y1="246.4" y2="391.5" stroke="#FDFDFD" stroke-width="1.0"/>
<line x1="75.19" x2="75.19" y1="246.4" y2="391.5" stroke="#FDFDFD" stroke-width="1.0"/>
<line x1="77.71" x2="77.71" y1="246.4" y2="391.5" stroke="#FDFDFD" stroke-width="1.0"/>
<line x1="80.24" x2="80.24" y1="246.4" y2="391.5" stroke="#FDFDFD" stroke-width="1.0"/>
<line x1="82.76" x2="82.76" y1="246.4" y2="391.5" stroke="#FDFDFD" stroke-width="1.0"/>
<line x1="85.28" x2="85.28" y1="246.4" y2="391.5" stroke="#FDFDFD" stroke-width="1.0"/>
<line x1="87.81" x2="87.81" y1="246.4" y2="391.5" stroke="#FDFDFD" stroke-width="1.0"/>
<line x1="90.33" x2="90.33" y1="246.4" y2="391.5" stroke="#FDFDFD" stroke-width="1.0"/>
<line x1="92.85" x2="92.85" y1="246.4" y2="391.5" stroke="#FDFDFD" stroke-width="1.0"/>
<line x1="95.38" x2="95.38" y1="246.4" y2="391.5" stroke="#FDFDFD" stroke-width="1.0"/>
<line x1="97.90" x2="97.90" y1="246.4" y2="391.5" stroke="#FDFDFD" stroke-width="1.0"/>
<line x1="100.42" x2="100.42" y1="246.4" y2="391.5" stroke="#FDFDFD" stroke-width="1.0"/>
<line x1="102.94" x2="102.94" y1="246.4" y2="391.5" stroke="#FDFDFD" stroke-width="1.0"/>
<line x1="105.47" x2="105.47" y1="246.4" y2="391.5" stroke="#FDFDFD" stroke-width="1.0"/>
<line x1="107.99" x2="107.99" y1="246.4" y2="391.5" stroke="#FDFDFD" stroke-width="1.0"/>
<line x1="110.52" x2="110.52" y1="246.4" y2="391.5" stroke="#FDFDFD" stroke-width="1.0"/>
<line x1="113.04" x2="113.04" y1="246.4" y2="391.5" stroke="#FDFDFD" stroke-width="1.0"/>
<line x1="115.56" x2="115.56" y1="246.4" y2="391.5" stroke="#FDFDFD" stroke-width="1.0"/>
<line x1="118.09" x2="118.09" y1="246.4" y2="391.5" stroke="#FDFDFD" stroke-width="1.0"/>
<line x1="120.61" x2="120.61" y1="246.4" y2="391.5" stroke="#FDFDFD" stroke-width="1.0"/>
<line x1="123.13" x2="123.13" y1="246.4" y2="391.5" stroke="#FDFDFD" stroke-width="1.0"/>
<line x1="125.66" x2="125.66" y1="246.4" y2="391.5" stroke="#FDFDFD" stroke-width="1.0"/>
<line x1="128.18" x2="128.18" y1="246.4" y2="391.5" stroke="#FDFDFD" stroke-width="1.0"/>
<line x1="130.70" x2="130.70" y1="246.4" y2="391.5" stroke="#FDFDFD" stroke-width="1.0"/>
<line x1="133.22" x2="133.22" y1="246.4" y2="391.5" stroke="#FDFDFD" stroke-width="1.0"/>
<line x1="135.75" x2="135.75" y1="246.4" y2="391.5" stroke="#FDFDFD" stroke-width="1.0"/>
<line x1="138.27" x2="138.27" y1="246.4" y2="391.5" stroke="#FDFDFD" stroke-width="1.0"/>
<line x1="140.80" x2="140.80" y1="246.4" y2="391.5" stroke="#FDFDFD" stroke-width="1.0"/>
<line x1="143.32" x2="143.32" y1="246.4" y2="391.5" stroke="#FDFDFD" stroke-width="1.0"/>
<line x1="145.84" x2="145.84" y1="246.4" y2="391.5" stroke="#FDFDFD" stroke-width="1.0"/>
<line x1="148.37" x2="148.37" y1="246.4" y2="391.5" stroke="#FDFDFD" stroke-width="1.0"/>
<line x1="150.89" x2="150.89" y1="246.4" y2="391.5" stroke="#FDFDFD" stroke-width="1.0"/>
<line x1="153.41" x2="153.41" y1="246.4" y2="391.5" stroke="#FDFDFD" stroke-width="1.0"/>
<line x1="155.94" x2="155.94" y1="246.4" y2="391.5" stroke="#FDFDFD" stroke-width="1.0"/>
<line x1="158.46" x2="158.46" y1="246.4" y2="391.5" stroke="#FDFDFD" stroke-width="1.0"/>
<line x1="160.98" x2="160.98" y1="246.4" y2="391.5" stroke="#FDFDFD" stroke-width="1.0"/>
<line x1="163.50" x2="163.50" y1="246.4" y2="391.5" stroke="#FDFDFD" stroke-width="1.0"/>
<line x1="166.03" x2="166.03" y1="246.4" y2="391.5" stroke="#FDFDFD" stroke-width="1.0"/>
<line x1="168.55" x2="168.55" y1="246.4" y2="391.5" stroke="#FDFDFD" stroke-width="1.0"/>
<line x1="171.07" x2="171.07" y1="246.4" y2="391.5" stroke="#FDFDFD" stroke-width="1.0"/>
<line x1="173.60" x2="173.60" y1="246.4" y2="391.5" stroke="#FDFDFD" stroke-width="1.0"/>
<line x1="176.12" x2="176.12" y1="246.4" y2="391.5" stroke="#FDFDFD" stroke-width="1.0"/>
<line x1="178.65" x2="178.65" y1="246.4" y2="391.5" stroke="#FDFDFD" stroke-width="1.0"/>
<line x1="181.17" x2="181.17" y1="246.4" y2="391.5" stroke="#FDFDFD" stroke-width="1.0"/>
<line x1="183.69" x2="183.69" y1="246.4" y2="391.5" stroke="#FDFDFD" stroke-width="1.0"/>
<line x1="186.22" x2="186.22" y1="246.4" y2="391.5" stroke="#FDFDFD" stroke-width="1.0"/>
<line x1="188.74" x2="188.74" y1="246.4" y2="391.5" stroke="#FDFDFD" stroke-width="1.0"/>
<line x1="31.4" x2="197.4" y1="384.58" y2="384.58" stroke="#E9E9E9" stroke-width="1.0"/>
<line x1="31.4" x2="197.4" y1="371.95" y2="371.95" stroke="#E9E9E9" stroke-width="1.0"/>
<line x1="31.4" x2="197.4" y1="359.33" y2="359.33" stroke="#E9E9E9" stroke-width="1.0"/>
<line x1="31.4" x2="197.4" y1="346.70" y2="346.70" stroke="#E9E9E9" stroke-width="1.0"/>
<line x1="31.4" x2="197.4" y1="334.08" y2="334.08" stroke="#E9E9E9" stroke-width="1.0"/>
<line x1="31.4" x2="197.4" y1="321.45" y2="321.45" stroke="#E9E9E9" stroke-width="1.0"/>
<line x1="31.4" x2="197.4" y1="308.82" y2="308.82" stroke="#E9E9E9" stroke-width="1.0"/>
<line x1="31.4" x2="197.4" y1="296.20" y2="296.20" stroke="#E9E9E9" stroke-width="1.0"/>
<line x1="31.4" x2="197.4" y1="283.57" y2="283.57" stroke="#E9E9E9" stroke-width="1.0"/>
<line x1="31.4" x2="197.4" y1="270.95" y2="270.95" stroke="#E9E9E9" stroke-width="1.0"/>
<line x1="31.4" x2="197.4" y1="258.32" y2="258.32" stroke="#E9E9E9" stroke-width="1.0"/>
<polyline points="39.50,386.00 39.80,357.00 40.81,354.92" fill="none" stroke="#E0121A" stroke-width="1.6" stroke-dasharray="4.8 5.83" stroke-dashoffset="9.76" stroke-linecap="round" stroke-linejoin="round"/>
<polyline points="40.81,354.92 41.60,353.30 42.80,349.00 43.56,344.87" fill="none" stroke="#E0121A" stroke-width="1.6" stroke-dasharray="4.8 5.83" stroke-dashoffset="8.33" stroke-linecap="round" stroke-linejoin="round"/>
<polyline points="43.56,344.87 43.90,343.00 43.90,334.10" fill="none" stroke="#E0121A" stroke-width="1.6" stroke-dasharray="4.8 5.83" stroke-dashoffset="8.33" stroke-linecap="round" stroke-linejoin="round"/>
<polyline points="43.90,334.10 43.90,332.30 48.80,331.40 49.20,323.00 49.22,317.20" fill="none" stroke="#E0121A" stroke-width="1.6" stroke-dasharray="4.8 5.83" stroke-dashoffset="8.33" stroke-linecap="round" stroke-linejoin="round"/>
<polyline points="49.22,317.20 49.26,306.50" fill="none" stroke="#E0121A" stroke-width="1.6" stroke-dasharray="4.8 5.83" stroke-dashoffset="8.33" stroke-linecap="round" stroke-linejoin="round"/>
<polyline points="49.26,306.50 49.30,296.50 50.32,296.35" fill="none" stroke="#E0121A" stroke-width="1.6" stroke-dasharray="4.8 5.83" stroke-dashoffset="8.33" stroke-linecap="round" stroke-linejoin="round"/>
<polyline points="50.32,296.35 52.10,296.10 55.80,293.60 57.50,293.60 58.20,295.36" fill="none" stroke="#E0121A" stroke-width="1.6" stroke-dasharray="4.8 5.83" stroke-dashoffset="8.33" stroke-linecap="round" stroke-linejoin="round"/>
<polyline points="58.20,295.36 58.50,296.10 61.20,296.10 61.83,289.29" fill="none" stroke="#E0121A" stroke-width="1.6" stroke-dasharray="4.8 5.83" stroke-dashoffset="8.33" stroke-linecap="round" stroke-linejoin="round"/>
<polyline points="61.83,289.29 62.00,287.50 62.80,283.60 66.60,283.40" fill="none" stroke="#E0121A" stroke-width="1.6" stroke-dasharray="4.8 5.83" stroke-dashoffset="8.33" stroke-linecap="round" stroke-linejoin="round"/>
<polyline points="66.60,283.40 68.40,283.30 69.60,280.60 76.00,280.60" fill="none" stroke="#E0121A" stroke-width="1.6" stroke-dasharray="4.8 5.83" stroke-dashoffset="8.33" stroke-linecap="round" stroke-linejoin="round"/>
<polyline points="76.00,280.60 78.00,280.60 79.00,276.50 79.12,272.40" fill="none" stroke="#E0121A" stroke-width="1.6" stroke-dasharray="4.8 5.83" stroke-dashoffset="8.33" stroke-linecap="round" stroke-linejoin="round"/>
<polyline points="79.12,272.40 79.44,261.90" fill="none" stroke="#E0121A" stroke-width="1.6" stroke-dasharray="4.8 5.83" stroke-dashoffset="8.33" stroke-linecap="round" stroke-linejoin="round"/>
<polyline points="79.44,261.90 79.50,260.00 80.10,257.70 86.50,257.70" fill="none" stroke="#E0121A" stroke-width="1.6" stroke-dasharray="4.8 5.83" stroke-dashoffset="8.33" stroke-linecap="round" stroke-linejoin="round"/>
<polyline points="86.50,257.70 88.30,257.70 89.70,260.10 95.50,260.10 95.61,260.60" fill="none" stroke="#E0121A" stroke-width="1.6" stroke-dasharray="4.8 5.83" stroke-dashoffset="8.33" stroke-linecap="round" stroke-linejoin="round"/>
<polyline points="95.61,260.60 96.80,266.20 98.50,268.00 99.20,268.00" fill="none" stroke="#E0121A" stroke-width="1.6" stroke-dasharray="4.8 5.83" stroke-dashoffset="8.33" stroke-linecap="round" stroke-linejoin="round"/>
<polyline points="99.20,268.00 104.80,268.00 105.09,262.42" fill="none" stroke="#E0121A" stroke-width="1.6" stroke-dasharray="4.8 5.83" stroke-dashoffset="8.33" stroke-linecap="round" stroke-linejoin="round"/>
<polyline points="105.09,262.42 105.20,260.30 113.30,260.30" fill="none" stroke="#E0121A" stroke-width="1.6" stroke-dasharray="4.8 5.83" stroke-dashoffset="8.33" stroke-linecap="round" stroke-linejoin="round"/>
<polyline points="113.30,260.30 123.50,260.30 123.85,259.38" fill="none" stroke="#E0121A" stroke-width="1.6" stroke-dasharray="4.8 5.83" stroke-dashoffset="8.33" stroke-linecap="round" stroke-linejoin="round"/>
<polyline points="123.85,259.38 124.50,257.70 126.40,257.70 127.80,260.10 130.86,260.10" fill="none" stroke="#E0121A" stroke-width="1.6" stroke-dasharray="4.8 5.83" stroke-dashoffset="8.33" stroke-linecap="round" stroke-linejoin="round"/>
<polyline points="130.86,260.10 131.50,260.10 132.00,259.50 134.50,252.80 135.50,252.80" fill="none" stroke="#E0121A" stroke-width="1.6" stroke-dasharray="4.8 5.83" stroke-dashoffset="8.33" stroke-linecap="round" stroke-linejoin="round"/>
<polyline points="135.50,252.80 190.10,252.80" fill="none" stroke="#E0121A" stroke-width="1.6" stroke-dasharray="4.8 5.83" stroke-dashoffset="8.33" stroke-linecap="round" stroke-linejoin="round"/>
<polyline points="40.00,386.00 40.30,367.00 41.20,361.00 45.10,355.19" fill="none" stroke="#47AD45" stroke-width="1.6" stroke-dasharray="4.8 5.83" stroke-dashoffset="1.96" stroke-linecap="round" stroke-linejoin="round"/>
<polyline points="45.10,355.19 46.10,353.70 46.50,349.40 47.34,345.80" fill="none" stroke="#47AD45" stroke-width="1.6" stroke-dasharray="4.8 5.83" stroke-dashoffset="8.33" stroke-linecap="round" stroke-linejoin="round"/>
<polyline points="47.34,345.80 48.40,341.30 49.50,343.00 50.54,348.04" fill="none" stroke="#47AD45" stroke-width="1.6" stroke-dasharray="4.8 5.83" stroke-dashoffset="8.33" stroke-linecap="round" stroke-linejoin="round"/>
<polyline points="50.54,348.04 50.90,349.80 52.00,345.60 53.00,342.00 54.94,344.04" fill="none" stroke="#47AD45" stroke-width="1.6" stroke-dasharray="4.8 5.83" stroke-dashoffset="8.33" stroke-linecap="round" stroke-linejoin="round"/>
<polyline points="54.94,344.04 55.10,344.20 56.00,342.00 60.40,341.79" fill="none" stroke="#47AD45" stroke-width="1.6" stroke-dasharray="4.8 5.83" stroke-dashoffset="8.33" stroke-linecap="round" stroke-linejoin="round"/>
<polyline points="60.40,341.79 62.20,341.70 67.50,341.70 67.93,339.38" fill="none" stroke="#47AD45" stroke-width="1.6" stroke-dasharray="4.8 5.83" stroke-dashoffset="8.33" stroke-linecap="round" stroke-linejoin="round"/>
<polyline points="67.93,339.38 68.00,339.00 69.40,332.30 70.50,329.30" fill="none" stroke="#47AD45" stroke-width="1.6" stroke-dasharray="4.8 5.83" stroke-dashoffset="8.33" stroke-linecap="round" stroke-linejoin="round"/>
<polyline points="70.50,329.30 70.50,329.30 72.30,329.30 73.50,326.40 76.00,326.40 77.27,328.86" fill="none" stroke="#47AD45" stroke-width="1.6" stroke-dasharray="4.8 5.83" stroke-dashoffset="8.33" stroke-linecap="round" stroke-linejoin="round"/>
<polyline points="77.27,328.86 77.50,329.30 78.80,329.30 80.50,326.40 86.40,326.43" fill="none" stroke="#47AD45" stroke-width="1.6" stroke-dasharray="4.8 5.83" stroke-dashoffset="8.33" stroke-linecap="round" stroke-linejoin="round"/>
<polyline points="86.40,326.43 97.02,326.50" fill="none" stroke="#47AD45" stroke-width="1.6" stroke-dasharray="4.8 5.83" stroke-dashoffset="8.33" stroke-linecap="round" stroke-linejoin="round"/>
<polyline points="97.02,326.50 97.50,326.50 97.90,320.60 98.50,316.50 98.52,316.50" fill="none" stroke="#47AD45" stroke-width="1.6" stroke-dasharray="4.8 5.83" stroke-dashoffset="8.33" stroke-linecap="round" stroke-linejoin="round"/>
<polyline points="98.52,316.50 100.30,316.20 101.30,320.30 101.30,323.70" fill="none" stroke="#47AD45" stroke-width="1.6" stroke-dasharray="4.8 5.83" stroke-dashoffset="8.33" stroke-linecap="round" stroke-linejoin="round"/>
<polyline points="101.30,323.70 101.30,326.60 109.30,326.60" fill="none" stroke="#47AD45" stroke-width="1.6" stroke-dasharray="4.8 5.83" stroke-dashoffset="8.33" stroke-linecap="round" stroke-linejoin="round"/>
<polyline points="109.30,326.60 131.36,326.60" fill="none" stroke="#47AD45" stroke-width="1.6" stroke-dasharray="4.8 5.83" stroke-dashoffset="8.33" stroke-linecap="round" stroke-linejoin="round"/>
<polyline points="131.36,326.60 131.50,326.60 133.00,328.90 140.50,328.90" fill="none" stroke="#47AD45" stroke-width="1.6" stroke-dasharray="4.8 5.83" stroke-dashoffset="8.33" stroke-linecap="round" stroke-linejoin="round"/>
<polyline points="140.50,328.90 190.10,328.90" fill="none" stroke="#47AD45" stroke-width="1.6" stroke-dasharray="4.8 5.83" stroke-dashoffset="8.33" stroke-linecap="round" stroke-linejoin="round"/>
<circle cx="47.80" cy="283.30" r="1.7" fill="#B7003A"/>
<circle cx="46.60" cy="322.40" r="1.7" fill="#B7003A"/>
<circle cx="43.50" cy="340.30" r="1.7" fill="#B7003A"/>
<circle cx="39.50" cy="346.60" r="1.7" fill="#B7003A"/>
<circle cx="39.10" cy="356.80" r="1.7" fill="#B7003A"/>
<circle cx="52.60" cy="311.20" r="1.7" fill="#134A92"/>
<circle cx="51.20" cy="313.60" r="1.7" fill="#134A92"/>
<circle cx="49.40" cy="321.20" r="1.7" fill="#134A92"/>
<circle cx="49.00" cy="326.30" r="1.7" fill="#134A92"/>
<circle cx="54.10" cy="325.20" r="1.7" fill="#134A92"/>
<circle cx="42.80" cy="354.40" r="1.7" fill="#134A92"/>
<circle cx="44.90" cy="346.60" r="1.7" fill="#3DB23D"/>
<circle cx="41.50" cy="363.40" r="1.7" fill="#3DB23D"/>
<circle cx="40.70" cy="372.40" r="1.7" fill="#3DB23D"/>
<circle cx="40.00" cy="385.00" r="1.7" fill="#3DB23D"/>
<circle cx="50.70" cy="372.40" r="1.7" fill="#3DB23D"/>
<circle cx="51.70" cy="372.40" r="1.7" fill="#3DB23D"/>
<circle cx="52.70" cy="372.40" r="1.7" fill="#3DB23D"/>
<circle cx="53.70" cy="372.40" r="1.7" fill="#3DB23D"/>
<circle cx="54.70" cy="372.40" r="1.7" fill="#3DB23D"/>
<rect x="31.4" y="246.4" width="166.00" height="145.10" fill="none" stroke="#333" stroke-width="1.0"/>
<line x1="28.80" x2="31.4" y1="346.70" y2="346.70" stroke="#2A2A2A" stroke-width="1.1"/>
<text transform="translate(26.30,349.30) scale(1,1.0)" font-size="7.1" fill="#444" class="tk" text-anchor="end">200</text>
<line x1="28.80" x2="31.4" y1="296.20" y2="296.20" stroke="#2A2A2A" stroke-width="1.1"/>
<text transform="translate(26.30,298.80) scale(1,1.0)" font-size="7.1" fill="#444" class="tk" text-anchor="end">400</text>
<line x1="38.60" x2="38.60" y1="391.5" y2="394.10" stroke="#2A2A2A" stroke-width="1.1"/>
<text transform="translate(43.00,398.80) rotate(-60) scale(1,1.0)" font-size="7.0" fill="#444" class="tk" text-anchor="end">0</text>
<line x1="48.69" x2="48.69" y1="391.5" y2="394.10" stroke="#2A2A2A" stroke-width="1.1"/>
<text transform="translate(53.09,398.80) rotate(-60) scale(1,1.0)" font-size="7.0" fill="#444" class="tk" text-anchor="end">360</text>
<line x1="58.79" x2="58.79" y1="391.5" y2="394.10" stroke="#2A2A2A" stroke-width="1.1"/>
<text transform="translate(63.19,398.80) rotate(-60) scale(1,1.0)" font-size="7.0" fill="#444" class="tk" text-anchor="end">720</text>
<line x1="68.88" x2="68.88" y1="391.5" y2="394.10" stroke="#2A2A2A" stroke-width="1.1"/>
<text transform="translate(73.28,398.80) rotate(-60) scale(1,1.0)" font-size="7.0" fill="#444" class="tk" text-anchor="end">1080</text>
<line x1="78.97" x2="78.97" y1="391.5" y2="394.10" stroke="#2A2A2A" stroke-width="1.1"/>
<text transform="translate(83.37,398.80) rotate(-60) scale(1,1.0)" font-size="7.0" fill="#444" class="tk" text-anchor="end">1440</text>
<line x1="89.07" x2="89.07" y1="391.5" y2="394.10" stroke="#2A2A2A" stroke-width="1.1"/>
<text transform="translate(93.47,398.80) rotate(-60) scale(1,1.0)" font-size="7.0" fill="#444" class="tk" text-anchor="end">1800</text>
<line x1="99.16" x2="99.16" y1="391.5" y2="394.10" stroke="#2A2A2A" stroke-width="1.1"/>
<text transform="translate(103.56,398.80) rotate(-60) scale(1,1.0)" font-size="7.0" fill="#444" class="tk" text-anchor="end">2160</text>
<line x1="109.25" x2="109.25" y1="391.5" y2="394.10" stroke="#2A2A2A" stroke-width="1.1"/>
<text transform="translate(113.65,398.80) rotate(-60) scale(1,1.0)" font-size="7.0" fill="#444" class="tk" text-anchor="end">2520</text>
<line x1="119.35" x2="119.35" y1="391.5" y2="394.10" stroke="#2A2A2A" stroke-width="1.1"/>
<text transform="translate(123.75,398.80) rotate(-60) scale(1,1.0)" font-size="7.0" fill="#444" class="tk" text-anchor="end">2880</text>
<line x1="129.44" x2="129.44" y1="391.5" y2="394.10" stroke="#2A2A2A" stroke-width="1.1"/>
<text transform="translate(133.84,398.80) rotate(-60) scale(1,1.0)" font-size="7.0" fill="#444" class="tk" text-anchor="end">3240</text>
<line x1="139.53" x2="139.53" y1="391.5" y2="394.10" stroke="#2A2A2A" stroke-width="1.1"/>
<text transform="translate(143.93,398.80) rotate(-60) scale(1,1.0)" font-size="7.0" fill="#444" class="tk" text-anchor="end">3600</text>
<line x1="149.63" x2="149.63" y1="391.5" y2="394.10" stroke="#2A2A2A" stroke-width="1.1"/>
<text transform="translate(154.03,398.80) rotate(-60) scale(1,1.0)" font-size="7.0" fill="#444" class="tk" text-anchor="end">3960</text>
<line x1="159.72" x2="159.72" y1="391.5" y2="394.10" stroke="#2A2A2A" stroke-width="1.1"/>
<text transform="translate(164.12,398.80) rotate(-60) scale(1,1.0)" font-size="7.0" fill="#444" class="tk" text-anchor="end">4320</text>
<line x1="169.81" x2="169.81" y1="391.5" y2="394.10" stroke="#2A2A2A" stroke-width="1.1"/>
<text transform="translate(174.21,398.80) rotate(-60) scale(1,1.0)" font-size="7.0" fill="#444" class="tk" text-anchor="end">4680</text>
<line x1="179.91" x2="179.91" y1="391.5" y2="394.10" stroke="#2A2A2A" stroke-width="1.1"/>
<text transform="translate(184.31,398.80) rotate(-60) scale(1,1.0)" font-size="7.0" fill="#444" class="tk" text-anchor="end">5040</text>
<line x1="190.00" x2="190.00" y1="391.5" y2="394.10" stroke="#2A2A2A" stroke-width="1.1"/>
<text transform="translate(194.40,398.80) rotate(-60) scale(1,1.0)" font-size="7.0" fill="#444" class="tk" text-anchor="end">5400</text>
<text transform="translate(114.40,423.40) scale(1,1.0)" font-size="9.9" fill="#000" class="tb" text-anchor="middle">Age (days)</text>
<text transform="translate(9.29,318.95) rotate(-90) scale(1,1.0)" font-size="9.9" fill="#000" class="tb" text-anchor="middle">Phe intake (mg)</text>
<text transform="translate(31.0,238.70) scale(1,1.0)" font-size="12.5" fill="#000" class="tb">c10, PKU</text>
</g>
<g id="pE">
<rect x="256.30" y="246.4" width="152.50" height="145.10" fill="#F3F3F3"/>
<line x1="258.06" x2="258.06" y1="246.4" y2="391.5" stroke="#FDFDFD" stroke-width="1.0"/>
<line x1="260.59" x2="260.59" y1="246.4" y2="391.5" stroke="#FDFDFD" stroke-width="1.0"/>
<line x1="263.11" x2="263.11" y1="246.4" y2="391.5" stroke="#FDFDFD" stroke-width="1.0"/>
<line x1="265.64" x2="265.64" y1="246.4" y2="391.5" stroke="#FDFDFD" stroke-width="1.0"/>
<line x1="268.16" x2="268.16" y1="246.4" y2="391.5" stroke="#FDFDFD" stroke-width="1.0"/>
<line x1="270.69" x2="270.69" y1="246.4" y2="391.5" stroke="#FDFDFD" stroke-width="1.0"/>
<line x1="273.21" x2="273.21" y1="246.4" y2="391.5" stroke="#FDFDFD" stroke-width="1.0"/>
<line x1="275.74" x2="275.74" y1="246.4" y2="391.5" stroke="#FDFDFD" stroke-width="1.0"/>
<line x1="278.26" x2="278.26" y1="246.4" y2="391.5" stroke="#FDFDFD" stroke-width="1.0"/>
<line x1="280.79" x2="280.79" y1="246.4" y2="391.5" stroke="#FDFDFD" stroke-width="1.0"/>
<line x1="283.31" x2="283.31" y1="246.4" y2="391.5" stroke="#FDFDFD" stroke-width="1.0"/>
<line x1="285.84" x2="285.84" y1="246.4" y2="391.5" stroke="#FDFDFD" stroke-width="1.0"/>
<line x1="288.36" x2="288.36" y1="246.4" y2="391.5" stroke="#FDFDFD" stroke-width="1.0"/>
<line x1="290.89" x2="290.89" y1="246.4" y2="391.5" stroke="#FDFDFD" stroke-width="1.0"/>
<line x1="293.41" x2="293.41" y1="246.4" y2="391.5" stroke="#FDFDFD" stroke-width="1.0"/>
<line x1="295.94" x2="295.94" y1="246.4" y2="391.5" stroke="#FDFDFD" stroke-width="1.0"/>
<line x1="298.46" x2="298.46" y1="246.4" y2="391.5" stroke="#FDFDFD" stroke-width="1.0"/>
<line x1="300.99" x2="300.99" y1="246.4" y2="391.5" stroke="#FDFDFD" stroke-width="1.0"/>
<line x1="303.51" x2="303.51" y1="246.4" y2="391.5" stroke="#FDFDFD" stroke-width="1.0"/>
<line x1="306.04" x2="306.04" y1="246.4" y2="391.5" stroke="#FDFDFD" stroke-width="1.0"/>
<line x1="308.56" x2="308.56" y1="246.4" y2="391.5" stroke="#FDFDFD" stroke-width="1.0"/>
<line x1="311.09" x2="311.09" y1="246.4" y2="391.5" stroke="#FDFDFD" stroke-width="1.0"/>
<line x1="313.61" x2="313.61" y1="246.4" y2="391.5" stroke="#FDFDFD" stroke-width="1.0"/>
<line x1="316.14" x2="316.14" y1="246.4" y2="391.5" stroke="#FDFDFD" stroke-width="1.0"/>
<line x1="318.66" x2="318.66" y1="246.4" y2="391.5" stroke="#FDFDFD" stroke-width="1.0"/>
<line x1="321.19" x2="321.19" y1="246.4" y2="391.5" stroke="#FDFDFD" stroke-width="1.0"/>
<line x1="323.71" x2="323.71" y1="246.4" y2="391.5" stroke="#FDFDFD" stroke-width="1.0"/>
<line x1="326.24" x2="326.24" y1="246.4" y2="391.5" stroke="#FDFDFD" stroke-width="1.0"/>
<line x1="328.76" x2="328.76" y1="246.4" y2="391.5" stroke="#FDFDFD" stroke-width="1.0"/>
<line x1="331.29" x2="331.29" y1="246.4" y2="391.5" stroke="#FDFDFD" stroke-width="1.0"/>
<line x1="333.81" x2="333.81" y1="246.4" y2="391.5" stroke="#FDFDFD" stroke-width="1.0"/>
<line x1="336.34" x2="336.34" y1="246.4" y2="391.5" stroke="#FDFDFD" stroke-width="1.0"/>
<line x1="338.86" x2="338.86" y1="246.4" y2="391.5" stroke="#FDFDFD" stroke-width="1.0"/>
<line x1="341.39" x2="341.39" y1="246.4" y2="391.5" stroke="#FDFDFD" stroke-width="1.0"/>
<line x1="343.91" x2="343.91" y1="246.4" y2="391.5" stroke="#FDFDFD" stroke-width="1.0"/>
<line x1="346.44" x2="346.44" y1="246.4" y2="391.5" stroke="#FDFDFD" stroke-width="1.0"/>
<line x1="348.96" x2="348.96" y1="246.4" y2="391.5" stroke="#FDFDFD" stroke-width="1.0"/>
<line x1="351.49" x2="351.49" y1="246.4" y2="391.5" stroke="#FDFDFD" stroke-width="1.0"/>
<line x1="354.01" x2="354.01" y1="246.4" y2="391.5" stroke="#FDFDFD" stroke-width="1.0"/>
<line x1="356.54" x2="356.54" y1="246.4" y2="391.5" stroke="#FDFDFD" stroke-width="1.0"/>
<line x1="359.06" x2="359.06" y1="246.4" y2="391.5" stroke="#FDFDFD" stroke-width="1.0"/>
<line x1="361.59" x2="361.59" y1="246.4" y2="391.5" stroke="#FDFDFD" stroke-width="1.0"/>
<line x1="364.11" x2="364.11" y1="246.4" y2="391.5" stroke="#FDFDFD" stroke-width="1.0"/>
<line x1="366.64" x2="366.64" y1="246.4" y2="391.5" stroke="#FDFDFD" stroke-width="1.0"/>
<line x1="369.16" x2="369.16" y1="246.4" y2="391.5" stroke="#FDFDFD" stroke-width="1.0"/>
<line x1="371.69" x2="371.69" y1="246.4" y2="391.5" stroke="#FDFDFD" stroke-width="1.0"/>
<line x1="374.21" x2="374.21" y1="246.4" y2="391.5" stroke="#FDFDFD" stroke-width="1.0"/>
<line x1="376.74" x2="376.74" y1="246.4" y2="391.5" stroke="#FDFDFD" stroke-width="1.0"/>
<line x1="379.26" x2="379.26" y1="246.4" y2="391.5" stroke="#FDFDFD" stroke-width="1.0"/>
<line x1="381.79" x2="381.79" y1="246.4" y2="391.5" stroke="#FDFDFD" stroke-width="1.0"/>
<line x1="384.31" x2="384.31" y1="246.4" y2="391.5" stroke="#FDFDFD" stroke-width="1.0"/>
<line x1="386.84" x2="386.84" y1="246.4" y2="391.5" stroke="#FDFDFD" stroke-width="1.0"/>
<line x1="389.36" x2="389.36" y1="246.4" y2="391.5" stroke="#FDFDFD" stroke-width="1.0"/>
<line x1="391.89" x2="391.89" y1="246.4" y2="391.5" stroke="#FDFDFD" stroke-width="1.0"/>
<line x1="394.41" x2="394.41" y1="246.4" y2="391.5" stroke="#FDFDFD" stroke-width="1.0"/>
<line x1="396.94" x2="396.94" y1="246.4" y2="391.5" stroke="#FDFDFD" stroke-width="1.0"/>
<line x1="399.46" x2="399.46" y1="246.4" y2="391.5" stroke="#FDFDFD" stroke-width="1.0"/>
<line x1="401.99" x2="401.99" y1="246.4" y2="391.5" stroke="#FDFDFD" stroke-width="1.0"/>
<line x1="404.51" x2="404.51" y1="246.4" y2="391.5" stroke="#FDFDFD" stroke-width="1.0"/>
<line x1="407.04" x2="407.04" y1="246.4" y2="391.5" stroke="#FDFDFD" stroke-width="1.0"/>
<line x1="249.6" x2="415.7" y1="391.16" y2="391.16" stroke="#E9E9E9" stroke-width="1.0"/>
<line x1="249.6" x2="415.7" y1="384.89" y2="384.89" stroke="#E9E9E9" stroke-width="1.0"/>
<line x1="249.6" x2="415.7" y1="378.63" y2="378.63" stroke="#E9E9E9" stroke-width="1.0"/>
<line x1="249.6" x2="415.7" y1="372.36" y2="372.36" stroke="#E9E9E9" stroke-width="1.0"/>
<line x1="249.6" x2="415.7" y1="366.09" y2="366.09" stroke="#E9E9E9" stroke-width="1.0"/>
<line x1="249.6" x2="415.7" y1="359.83" y2="359.83" stroke="#E9E9E9" stroke-width="1.0"/>
<line x1="249.6" x2="415.7" y1="353.56" y2="353.56" stroke="#E9E9E9" stroke-width="1.0"/>
<line x1="249.6" x2="415.7" y1="347.29" y2="347.29" stroke="#E9E9E9" stroke-width="1.0"/>
<line x1="249.6" x2="415.7" y1="341.03" y2="341.03" stroke="#E9E9E9" stroke-width="1.0"/>
<line x1="249.6" x2="415.7" y1="334.76" y2="334.76" stroke="#E9E9E9" stroke-width="1.0"/>
<line x1="249.6" x2="415.7" y1="328.49" y2="328.49" stroke="#E9E9E9" stroke-width="1.0"/>
<line x1="249.6" x2="415.7" y1="322.23" y2="322.23" stroke="#E9E9E9" stroke-width="1.0"/>
<line x1="249.6" x2="415.7" y1="315.96" y2="315.96" stroke="#E9E9E9" stroke-width="1.0"/>
<line x1="249.6" x2="415.7" y1="309.69" y2="309.69" stroke="#E9E9E9" stroke-width="1.0"/>
<line x1="249.6" x2="415.7" y1="303.43" y2="303.43" stroke="#E9E9E9" stroke-width="1.0"/>
<line x1="249.6" x2="415.7" y1="297.16" y2="297.16" stroke="#E9E9E9" stroke-width="1.0"/>
<line x1="249.6" x2="415.7" y1="290.89" y2="290.89" stroke="#E9E9E9" stroke-width="1.0"/>
<line x1="249.6" x2="415.7" y1="284.63" y2="284.63" stroke="#E9E9E9" stroke-width="1.0"/>
<line x1="249.6" x2="415.7" y1="278.36" y2="278.36" stroke="#E9E9E9" stroke-width="1.0"/>
<line x1="249.6" x2="415.7" y1="272.09" y2="272.09" stroke="#E9E9E9" stroke-width="1.0"/>
<line x1="249.6" x2="415.7" y1="265.83" y2="265.83" stroke="#E9E9E9" stroke-width="1.0"/>
<line x1="249.6" x2="415.7" y1="259.56" y2="259.56" stroke="#E9E9E9" stroke-width="1.0"/>
<line x1="249.6" x2="415.7" y1="253.29" y2="253.29" stroke="#E9E9E9" stroke-width="1.0"/>
<line x1="249.6" x2="415.7" y1="247.03" y2="247.03" stroke="#E9E9E9" stroke-width="1.0"/>
<polyline points="257.20,383.00 258.50,373.40 258.89,367.00" fill="none" stroke="#E0121A" stroke-width="1.6" stroke-dasharray="4.8 5.83" stroke-dashoffset="5.86" stroke-linecap="round" stroke-linejoin="round"/>
<polyline points="258.89,367.00 259.00,365.20 260.20,364.00 260.61,359.99" fill="none" stroke="#E0121A" stroke-width="1.6" stroke-dasharray="4.8 5.83" stroke-dashoffset="8.33" stroke-linecap="round" stroke-linejoin="round"/>
<polyline points="260.61,359.99 260.80,358.20 263.20,354.60 265.34,352.91" fill="none" stroke="#E0121A" stroke-width="1.6" stroke-dasharray="4.8 5.83" stroke-dashoffset="8.33" stroke-linecap="round" stroke-linejoin="round"/>
<polyline points="265.34,352.91 266.50,352.00 267.30,346.40 267.62,342.99" fill="none" stroke="#E0121A" stroke-width="1.6" stroke-dasharray="4.8 5.83" stroke-dashoffset="8.33" stroke-linecap="round" stroke-linejoin="round"/>
<polyline points="267.62,342.99 267.80,341.00 269.60,337.00 272.00,335.30 275.00,334.70 277.82,335.26" fill="none" stroke="#E0121A" stroke-width="1.6" stroke-dasharray="4.8 5.83" stroke-dashoffset="8.33" stroke-linecap="round" stroke-linejoin="round"/>
<polyline points="277.82,335.26 278.00,335.30 281.20,333.20 286.18,333.20" fill="none" stroke="#E0121A" stroke-width="1.6" stroke-dasharray="4.8 5.83" stroke-dashoffset="8.33" stroke-linecap="round" stroke-linejoin="round"/>
<polyline points="286.18,333.20 287.00,333.20 288.50,333.50 295.50,333.50 296.05,332.63" fill="none" stroke="#E0121A" stroke-width="1.6" stroke-dasharray="4.8 5.83" stroke-dashoffset="8.33" stroke-linecap="round" stroke-linejoin="round"/>
<polyline points="296.05,332.63 297.00,331.10 300.20,327.90 303.00,328.00 303.17,328.18" fill="none" stroke="#E0121A" stroke-width="1.6" stroke-dasharray="4.8 5.83" stroke-dashoffset="8.33" stroke-linecap="round" stroke-linejoin="round"/>
<polyline points="303.17,328.18 304.40,329.50 306.00,331.10 308.10,329.50 311.00,328.50 314.00,330.90 320.60,330.90" fill="none" stroke="#E0121A" stroke-width="1.6" stroke-dasharray="4.8 5.83" stroke-dashoffset="8.33" stroke-linecap="round" stroke-linejoin="round"/>
<polyline points="320.60,330.90 330.20,330.90" fill="none" stroke="#E0121A" stroke-width="1.6" stroke-dasharray="4.8 5.83" stroke-dashoffset="8.33" stroke-linecap="round" stroke-linejoin="round"/>
<polyline points="330.20,330.90 339.00,330.90 340.15,328.91" fill="none" stroke="#E0121A" stroke-width="1.6" stroke-dasharray="4.8 5.83" stroke-dashoffset="8.33" stroke-linecap="round" stroke-linejoin="round"/>
<polyline points="340.15,328.91 340.50,328.30 408.30,328.30" fill="none" stroke="#E0121A" stroke-width="1.6" stroke-dasharray="4.8 5.83" stroke-dashoffset="8.33" stroke-linecap="round" stroke-linejoin="round"/>
<polyline points="257.20,376.00 258.50,370.60 259.80,366.30 261.81,364.64" fill="none" stroke="#47AD45" stroke-width="1.6" stroke-dasharray="4.8 5.83" stroke-dashoffset="4.58" stroke-linecap="round" stroke-linejoin="round"/>
<polyline points="261.81,364.64 263.20,363.50 265.00,358.90 266.00,359.90" fill="none" stroke="#47AD45" stroke-width="1.6" stroke-dasharray="4.8 5.83" stroke-dashoffset="8.33" stroke-linecap="round" stroke-linejoin="round"/>
<polyline points="266.00,359.90 267.20,361.10 269.80,360.60 270.60,358.90 272.00,358.22" fill="none" stroke="#47AD45" stroke-width="1.6" stroke-dasharray="4.8 5.83" stroke-dashoffset="8.33" stroke-linecap="round" stroke-linejoin="round"/>
<polyline points="272.00,358.22 273.70,357.40 283.10,357.47" fill="none" stroke="#47AD45" stroke-width="1.6" stroke-dasharray="4.8 5.83" stroke-dashoffset="8.33" stroke-linecap="round" stroke-linejoin="round"/>
<polyline points="283.10,357.47 287.50,357.50 288.00,354.90 289.73,352.21" fill="none" stroke="#47AD45" stroke-width="1.6" stroke-dasharray="4.8 5.83" stroke-dashoffset="8.33" stroke-linecap="round" stroke-linejoin="round"/>
<polyline points="289.73,352.21 290.70,350.70 292.30,351.20 293.60,353.80 295.50,353.00 295.64,352.88" fill="none" stroke="#47AD45" stroke-width="1.6" stroke-dasharray="4.8 5.83" stroke-dashoffset="8.33" stroke-linecap="round" stroke-linejoin="round"/>
<polyline points="295.64,352.88 297.00,351.70 298.60,353.60 299.70,351.70 302.61,351.39" fill="none" stroke="#47AD45" stroke-width="1.6" stroke-dasharray="4.8 5.83" stroke-dashoffset="8.33" stroke-linecap="round" stroke-linejoin="round"/>
<polyline points="302.61,351.39 304.40,351.20 306.00,349.60 308.10,351.20 312.10,351.20" fill="none" stroke="#47AD45" stroke-width="1.6" stroke-dasharray="4.8 5.83" stroke-dashoffset="8.33" stroke-linecap="round" stroke-linejoin="round"/>
<polyline points="312.10,351.20 313.90,351.20 315.50,349.80 318.70,349.80 320.50,351.20 321.70,351.20" fill="none" stroke="#47AD45" stroke-width="1.6" stroke-dasharray="4.8 5.83" stroke-dashoffset="8.33" stroke-linecap="round" stroke-linejoin="round"/>
<polyline points="321.70,351.20 332.00,351.20" fill="none" stroke="#47AD45" stroke-width="1.6" stroke-dasharray="4.8 5.83" stroke-dashoffset="8.33" stroke-linecap="round" stroke-linejoin="round"/>
<polyline points="332.00,351.20 342.90,351.20" fill="none" stroke="#47AD45" stroke-width="1.6" stroke-dasharray="4.8 5.83" stroke-dashoffset="8.33" stroke-linecap="round" stroke-linejoin="round"/>
<polyline points="342.90,351.20 351.50,351.20 352.11,352.90" fill="none" stroke="#47AD45" stroke-width="1.6" stroke-dasharray="4.8 5.83" stroke-dashoffset="8.33" stroke-linecap="round" stroke-linejoin="round"/>
<polyline points="352.11,352.90 353.70,357.30 359.30,357.31" fill="none" stroke="#47AD45" stroke-width="1.6" stroke-dasharray="4.8 5.83" stroke-dashoffset="8.33" stroke-linecap="round" stroke-linejoin="round"/>
<polyline points="359.30,357.31 408.30,357.40" fill="none" stroke="#47AD45" stroke-width="1.6" stroke-dasharray="4.8 5.83" stroke-dashoffset="8.33" stroke-linecap="round" stroke-linejoin="round"/>
<circle cx="288.70" cy="252.70" r="1.7" fill="#B7003A"/>
<circle cx="288.70" cy="261.50" r="1.7" fill="#B7003A"/>
<circle cx="305.00" cy="334.60" r="1.7" fill="#B7003A"/>
<circle cx="315.50" cy="327.90" r="1.7" fill="#B7003A"/>
<circle cx="321.30" cy="327.90" r="1.7" fill="#B7003A"/>
<circle cx="331.70" cy="325.60" r="1.7" fill="#B7003A"/>
<circle cx="344.20" cy="325.60" r="1.7" fill="#B7003A"/>
<circle cx="356.90" cy="334.60" r="1.7" fill="#B7003A"/>
<circle cx="361.10" cy="316.00" r="1.7" fill="#B7003A"/>
<circle cx="347.00" cy="309.40" r="1.7" fill="#B7003A"/>
<circle cx="350.00" cy="309.40" r="1.7" fill="#B7003A"/>
<circle cx="354.90" cy="309.40" r="1.7" fill="#B7003A"/>
<circle cx="367.90" cy="296.90" r="1.7" fill="#B7003A"/>
<circle cx="369.60" cy="296.90" r="1.7" fill="#B7003A"/>
<circle cx="371.40" cy="296.90" r="1.7" fill="#B7003A"/>
<circle cx="297.60" cy="338.50" r="1.7" fill="#134A92"/>
<circle cx="306.80" cy="334.60" r="1.7" fill="#134A92"/>
<circle cx="312.00" cy="332.20" r="1.7" fill="#134A92"/>
<circle cx="324.30" cy="340.90" r="1.7" fill="#134A92"/>
<circle cx="334.90" cy="328.20" r="1.7" fill="#134A92"/>
<circle cx="339.40" cy="328.20" r="1.7" fill="#134A92"/>
<circle cx="359.00" cy="353.30" r="1.7" fill="#134A92"/>
<circle cx="295.20" cy="369.90" r="1.7" fill="#3DB23D"/>
<circle cx="301.50" cy="372.40" r="1.7" fill="#3DB23D"/>
<circle cx="294.10" cy="385.00" r="1.7" fill="#3DB23D"/>
<circle cx="356.00" cy="368.40" r="1.7" fill="#3DB23D"/>
<circle cx="353.80" cy="372.30" r="1.7" fill="#3DB23D"/>
<rect x="249.6" y="246.4" width="166.10" height="145.10" fill="none" stroke="#333" stroke-width="1.0"/>
<line x1="247.00" x2="249.6" y1="384.89" y2="384.89" stroke="#2A2A2A" stroke-width="1.1"/>
<text transform="translate(244.50,387.49) scale(1,1.0)" font-size="7.1" fill="#444" class="tk" text-anchor="end">0</text>
<line x1="247.00" x2="249.6" y1="359.83" y2="359.83" stroke="#2A2A2A" stroke-width="1.1"/>
<text transform="translate(244.50,362.43) scale(1,1.0)" font-size="7.1" fill="#444" class="tk" text-anchor="end">200</text>
<line x1="247.00" x2="249.6" y1="334.76" y2="334.76" stroke="#2A2A2A" stroke-width="1.1"/>
<text transform="translate(244.50,337.36) scale(1,1.0)" font-size="7.1" fill="#444" class="tk" text-anchor="end">400</text>
<line x1="247.00" x2="249.6" y1="309.69" y2="309.69" stroke="#2A2A2A" stroke-width="1.1"/>
<text transform="translate(244.50,312.29) scale(1,1.0)" font-size="7.1" fill="#444" class="tk" text-anchor="end">600</text>
<line x1="247.00" x2="249.6" y1="284.63" y2="284.63" stroke="#2A2A2A" stroke-width="1.1"/>
<text transform="translate(244.50,287.23) scale(1,1.0)" font-size="7.1" fill="#444" class="tk" text-anchor="end">800</text>
<line x1="247.00" x2="249.6" y1="259.56" y2="259.56" stroke="#2A2A2A" stroke-width="1.1"/>
<text transform="translate(244.50,262.16) scale(1,1.0)" font-size="7.1" fill="#444" class="tk" text-anchor="end">1000</text>
<line x1="256.80" x2="256.80" y1="391.5" y2="394.10" stroke="#2A2A2A" stroke-width="1.1"/>
<text transform="translate(261.20,398.80) rotate(-60) scale(1,1.0)" font-size="7.0" fill="#444" class="tk" text-anchor="end">0</text>
<line x1="266.90" x2="266.90" y1="391.5" y2="394.10" stroke="#2A2A2A" stroke-width="1.1"/>
<text transform="translate(271.30,398.80) rotate(-60) scale(1,1.0)" font-size="7.0" fill="#444" class="tk" text-anchor="end">360</text>
<line x1="277.00" x2="277.00" y1="391.5" y2="394.10" stroke="#2A2A2A" stroke-width="1.1"/>
<text transform="translate(281.40,398.80) rotate(-60) scale(1,1.0)" font-size="7.0" fill="#444" class="tk" text-anchor="end">720</text>
<line x1="287.10" x2="287.10" y1="391.5" y2="394.10" stroke="#2A2A2A" stroke-width="1.1"/>
<text transform="translate(291.50,398.80) rotate(-60) scale(1,1.0)" font-size="7.0" fill="#444" class="tk" text-anchor="end">1080</text>
<line x1="297.20" x2="297.20" y1="391.5" y2="394.10" stroke="#2A2A2A" stroke-width="1.1"/>
<text transform="translate(301.60,398.80) rotate(-60) scale(1,1.0)" font-size="7.0" fill="#444" class="tk" text-anchor="end">1440</text>
<line x1="307.30" x2="307.30" y1="391.5" y2="394.10" stroke="#2A2A2A" stroke-width="1.1"/>
<text transform="translate(311.70,398.80) rotate(-60) scale(1,1.0)" font-size="7.0" fill="#444" class="tk" text-anchor="end">1800</text>
<line x1="317.40" x2="317.40" y1="391.5" y2="394.10" stroke="#2A2A2A" stroke-width="1.1"/>
<text transform="translate(321.80,398.80) rotate(-60) scale(1,1.0)" font-size="7.0" fill="#444" class="tk" text-anchor="end">2160</text>
<line x1="327.50" x2="327.50" y1="391.5" y2="394.10" stroke="#2A2A2A" stroke-width="1.1"/>
<text transform="translate(331.90,398.80) rotate(-60) scale(1,1.0)" font-size="7.0" fill="#444" class="tk" text-anchor="end">2520</text>
<line x1="337.60" x2="337.60" y1="391.5" y2="394.10" stroke="#2A2A2A" stroke-width="1.1"/>
<text transform="translate(342.00,398.80) rotate(-60) scale(1,1.0)" font-size="7.0" fill="#444" class="tk" text-anchor="end">2880</text>
<line x1="347.70" x2="347.70" y1="391.5" y2="394.10" stroke="#2A2A2A" stroke-width="1.1"/>
<text transform="translate(352.10,398.80) rotate(-60) scale(1,1.0)" font-size="7.0" fill="#444" class="tk" text-anchor="end">3240</text>
<line x1="357.80" x2="357.80" y1="391.5" y2="394.10" stroke="#2A2A2A" stroke-width="1.1"/>
<text transform="translate(362.20,398.80) rotate(-60) scale(1,1.0)" font-size="7.0" fill="#444" class="tk" text-anchor="end">3600</text>
<line x1="367.90" x2="367.90" y1="391.5" y2="394.10" stroke="#2A2A2A" stroke-width="1.1"/>
<text transform="translate(372.30,398.80) rotate(-60) scale(1,1.0)" font-size="7.0" fill="#444" class="tk" text-anchor="end">3960</text>
<line x1="378.00" x2="378.00" y1="391.5" y2="394.10" stroke="#2A2A2A" stroke-width="1.1"/>
<text transform="translate(382.40,398.80) rotate(-60) scale(1,1.0)" font-size="7.0" fill="#444" class="tk" text-anchor="end">4320</text>
<line x1="388.10" x2="388.10" y1="391.5" y2="394.10" stroke="#2A2A2A" stroke-width="1.1"/>
<text transform="translate(392.50,398.80) rotate(-60) scale(1,1.0)" font-size="7.0" fill="#444" class="tk" text-anchor="end">4680</text>
<line x1="398.20" x2="398.20" y1="391.5" y2="394.10" stroke="#2A2A2A" stroke-width="1.1"/>
<text transform="translate(402.60,398.80) rotate(-60) scale(1,1.0)" font-size="7.0" fill="#444" class="tk" text-anchor="end">5040</text>
<line x1="408.30" x2="408.30" y1="391.5" y2="394.10" stroke="#2A2A2A" stroke-width="1.1"/>
<text transform="translate(412.70,398.80) rotate(-60) scale(1,1.0)" font-size="7.0" fill="#444" class="tk" text-anchor="end">5400</text>
<text transform="translate(332.65,423.40) scale(1,1.0)" font-size="9.9" fill="#000" class="tb" text-anchor="middle">Age (days)</text>
<text transform="translate(223.48,318.95) rotate(-90) scale(1,1.0)" font-size="9.9" fill="#000" class="tb" text-anchor="middle">Phe intake (mg)</text>
<text transform="translate(249.3,238.70) scale(1,1.0)" font-size="12.5" fill="#000" class="tb">p167, PKU</text>
</g>
<g id="pF">
<rect x="475.10" y="246.4" width="152.40" height="145.10" fill="#F3F3F3"/>
<line x1="476.86" x2="476.86" y1="246.4" y2="391.5" stroke="#FDFDFD" stroke-width="1.0"/>
<line x1="479.38" x2="479.38" y1="246.4" y2="391.5" stroke="#FDFDFD" stroke-width="1.0"/>
<line x1="481.91" x2="481.91" y1="246.4" y2="391.5" stroke="#FDFDFD" stroke-width="1.0"/>
<line x1="484.43" x2="484.43" y1="246.4" y2="391.5" stroke="#FDFDFD" stroke-width="1.0"/>
<line x1="486.95" x2="486.95" y1="246.4" y2="391.5" stroke="#FDFDFD" stroke-width="1.0"/>
<line x1="489.48" x2="489.48" y1="246.4" y2="391.5" stroke="#FDFDFD" stroke-width="1.0"/>
<line x1="492.00" x2="492.00" y1="246.4" y2="391.5" stroke="#FDFDFD" stroke-width="1.0"/>
<line x1="494.52" x2="494.52" y1="246.4" y2="391.5" stroke="#FDFDFD" stroke-width="1.0"/>
<line x1="497.05" x2="497.05" y1="246.4" y2="391.5" stroke="#FDFDFD" stroke-width="1.0"/>
<line x1="499.57" x2="499.57" y1="246.4" y2="391.5" stroke="#FDFDFD" stroke-width="1.0"/>
<line x1="502.09" x2="502.09" y1="246.4" y2="391.5" stroke="#FDFDFD" stroke-width="1.0"/>
<line x1="504.62" x2="504.62" y1="246.4" y2="391.5" stroke="#FDFDFD" stroke-width="1.0"/>
<line x1="507.14" x2="507.14" y1="246.4" y2="391.5" stroke="#FDFDFD" stroke-width="1.0"/>
<line x1="509.66" x2="509.66" y1="246.4" y2="391.5" stroke="#FDFDFD" stroke-width="1.0"/>
<line x1="512.19" x2="512.19" y1="246.4" y2="391.5" stroke="#FDFDFD" stroke-width="1.0"/>
<line x1="514.71" x2="514.71" y1="246.4" y2="391.5" stroke="#FDFDFD" stroke-width="1.0"/>
<line x1="517.24" x2="517.24" y1="246.4" y2="391.5" stroke="#FDFDFD" stroke-width="1.0"/>
<line x1="519.76" x2="519.76" y1="246.4" y2="391.5" stroke="#FDFDFD" stroke-width="1.0"/>
<line x1="522.28" x2="522.28" y1="246.4" y2="391.5" stroke="#FDFDFD" stroke-width="1.0"/>
<line x1="524.80" x2="524.80" y1="246.4" y2="391.5" stroke="#FDFDFD" stroke-width="1.0"/>
<line x1="527.33" x2="527.33" y1="246.4" y2="391.5" stroke="#FDFDFD" stroke-width="1.0"/>
<line x1="529.85" x2="529.85" y1="246.4" y2="391.5" stroke="#FDFDFD" stroke-width="1.0"/>
<line x1="532.38" x2="532.38" y1="246.4" y2="391.5" stroke="#FDFDFD" stroke-width="1.0"/>
<line x1="534.90" x2="534.90" y1="246.4" y2="391.5" stroke="#FDFDFD" stroke-width="1.0"/>
<line x1="537.42" x2="537.42" y1="246.4" y2="391.5" stroke="#FDFDFD" stroke-width="1.0"/>
<line x1="539.94" x2="539.94" y1="246.4" y2="391.5" stroke="#FDFDFD" stroke-width="1.0"/>
<line x1="542.47" x2="542.47" y1="246.4" y2="391.5" stroke="#FDFDFD" stroke-width="1.0"/>
<line x1="544.99" x2="544.99" y1="246.4" y2="391.5" stroke="#FDFDFD" stroke-width="1.0"/>
<line x1="547.51" x2="547.51" y1="246.4" y2="391.5" stroke="#FDFDFD" stroke-width="1.0"/>
<line x1="550.04" x2="550.04" y1="246.4" y2="391.5" stroke="#FDFDFD" stroke-width="1.0"/>
<line x1="552.56" x2="552.56" y1="246.4" y2="391.5" stroke="#FDFDFD" stroke-width="1.0"/>
<line x1="555.09" x2="555.09" y1="246.4" y2="391.5" stroke="#FDFDFD" stroke-width="1.0"/>
<line x1="557.61" x2="557.61" y1="246.4" y2="391.5" stroke="#FDFDFD" stroke-width="1.0"/>
<line x1="560.13" x2="560.13" y1="246.4" y2="391.5" stroke="#FDFDFD" stroke-width="1.0"/>
<line x1="562.65" x2="562.65" y1="246.4" y2="391.5" stroke="#FDFDFD" stroke-width="1.0"/>
<line x1="565.18" x2="565.18" y1="246.4" y2="391.5" stroke="#FDFDFD" stroke-width="1.0"/>
<line x1="567.70" x2="567.70" y1="246.4" y2="391.5" stroke="#FDFDFD" stroke-width="1.0"/>
<line x1="570.23" x2="570.23" y1="246.4" y2="391.5" stroke="#FDFDFD" stroke-width="1.0"/>
<line x1="572.75" x2="572.75" y1="246.4" y2="391.5" stroke="#FDFDFD" stroke-width="1.0"/>
<line x1="575.27" x2="575.27" y1="246.4" y2="391.5" stroke="#FDFDFD" stroke-width="1.0"/>
<line x1="577.79" x2="577.79" y1="246.4" y2="391.5" stroke="#FDFDFD" stroke-width="1.0"/>
<line x1="580.32" x2="580.32" y1="246.4" y2="391.5" stroke="#FDFDFD" stroke-width="1.0"/>
<line x1="582.84" x2="582.84" y1="246.4" y2="391.5" stroke="#FDFDFD" stroke-width="1.0"/>
<line x1="585.37" x2="585.37" y1="246.4" y2="391.5" stroke="#FDFDFD" stroke-width="1.0"/>
<line x1="587.89" x2="587.89" y1="246.4" y2="391.5" stroke="#FDFDFD" stroke-width="1.0"/>
<line x1="590.41" x2="590.41" y1="246.4" y2="391.5" stroke="#FDFDFD" stroke-width="1.0"/>
<line x1="592.93" x2="592.93" y1="246.4" y2="391.5" stroke="#FDFDFD" stroke-width="1.0"/>
<line x1="595.46" x2="595.46" y1="246.4" y2="391.5" stroke="#FDFDFD" stroke-width="1.0"/>
<line x1="597.98" x2="597.98" y1="246.4" y2="391.5" stroke="#FDFDFD" stroke-width="1.0"/>
<line x1="600.50" x2="600.50" y1="246.4" y2="391.5" stroke="#FDFDFD" stroke-width="1.0"/>
<line x1="603.03" x2="603.03" y1="246.4" y2="391.5" stroke="#FDFDFD" stroke-width="1.0"/>
<line x1="605.55" x2="605.55" y1="246.4" y2="391.5" stroke="#FDFDFD" stroke-width="1.0"/>
<line x1="608.08" x2="608.08" y1="246.4" y2="391.5" stroke="#FDFDFD" stroke-width="1.0"/>
<line x1="610.60" x2="610.60" y1="246.4" y2="391.5" stroke="#FDFDFD" stroke-width="1.0"/>
<line x1="613.12" x2="613.12" y1="246.4" y2="391.5" stroke="#FDFDFD" stroke-width="1.0"/>
<line x1="615.64" x2="615.64" y1="246.4" y2="391.5" stroke="#FDFDFD" stroke-width="1.0"/>
<line x1="618.17" x2="618.17" y1="246.4" y2="391.5" stroke="#FDFDFD" stroke-width="1.0"/>
<line x1="620.69" x2="620.69" y1="246.4" y2="391.5" stroke="#FDFDFD" stroke-width="1.0"/>
<line x1="623.22" x2="623.22" y1="246.4" y2="391.5" stroke="#FDFDFD" stroke-width="1.0"/>
<line x1="625.74" x2="625.74" y1="246.4" y2="391.5" stroke="#FDFDFD" stroke-width="1.0"/>
<line x1="468.4" x2="634.4" y1="389.50" y2="389.50" stroke="#E9E9E9" stroke-width="1.0"/>
<line x1="468.4" x2="634.4" y1="384.93" y2="384.93" stroke="#E9E9E9" stroke-width="1.0"/>
<line x1="468.4" x2="634.4" y1="380.35" y2="380.35" stroke="#E9E9E9" stroke-width="1.0"/>
<line x1="468.4" x2="634.4" y1="375.78" y2="375.78" stroke="#E9E9E9" stroke-width="1.0"/>
<line x1="468.4" x2="634.4" y1="371.21" y2="371.21" stroke="#E9E9E9" stroke-width="1.0"/>
<line x1="468.4" x2="634.4" y1="366.64" y2="366.64" stroke="#E9E9E9" stroke-width="1.0"/>
<line x1="468.4" x2="634.4" y1="362.07" y2="362.07" stroke="#E9E9E9" stroke-width="1.0"/>
<line x1="468.4" x2="634.4" y1="357.49" y2="357.49" stroke="#E9E9E9" stroke-width="1.0"/>
<line x1="468.4" x2="634.4" y1="352.92" y2="352.92" stroke="#E9E9E9" stroke-width="1.0"/>
<line x1="468.4" x2="634.4" y1="348.35" y2="348.35" stroke="#E9E9E9" stroke-width="1.0"/>
<line x1="468.4" x2="634.4" y1="343.78" y2="343.78" stroke="#E9E9E9" stroke-width="1.0"/>
<line x1="468.4" x2="634.4" y1="339.21" y2="339.21" stroke="#E9E9E9" stroke-width="1.0"/>
<line x1="468.4" x2="634.4" y1="334.64" y2="334.64" stroke="#E9E9E9" stroke-width="1.0"/>
<line x1="468.4" x2="634.4" y1="330.06" y2="330.06" stroke="#E9E9E9" stroke-width="1.0"/>
<line x1="468.4" x2="634.4" y1="325.49" y2="325.49" stroke="#E9E9E9" stroke-width="1.0"/>
<line x1="468.4" x2="634.4" y1="320.92" y2="320.92" stroke="#E9E9E9" stroke-width="1.0"/>
<line x1="468.4" x2="634.4" y1="316.35" y2="316.35" stroke="#E9E9E9" stroke-width="1.0"/>
<line x1="468.4" x2="634.4" y1="311.78" y2="311.78" stroke="#E9E9E9" stroke-width="1.0"/>
<line x1="468.4" x2="634.4" y1="307.21" y2="307.21" stroke="#E9E9E9" stroke-width="1.0"/>
<line x1="468.4" x2="634.4" y1="302.63" y2="302.63" stroke="#E9E9E9" stroke-width="1.0"/>
<line x1="468.4" x2="634.4" y1="298.06" y2="298.06" stroke="#E9E9E9" stroke-width="1.0"/>
<line x1="468.4" x2="634.4" y1="293.49" y2="293.49" stroke="#E9E9E9" stroke-width="1.0"/>
<line x1="468.4" x2="634.4" y1="288.92" y2="288.92" stroke="#E9E9E9" stroke-width="1.0"/>
<line x1="468.4" x2="634.4" y1="284.35" y2="284.35" stroke="#E9E9E9" stroke-width="1.0"/>
<line x1="468.4" x2="634.4" y1="279.77" y2="279.77" stroke="#E9E9E9" stroke-width="1.0"/>
<line x1="468.4" x2="634.4" y1="275.20" y2="275.20" stroke="#E9E9E9" stroke-width="1.0"/>
<line x1="468.4" x2="634.4" y1="270.63" y2="270.63" stroke="#E9E9E9" stroke-width="1.0"/>
<line x1="468.4" x2="634.4" y1="266.06" y2="266.06" stroke="#E9E9E9" stroke-width="1.0"/>
<line x1="468.4" x2="634.4" y1="261.49" y2="261.49" stroke="#E9E9E9" stroke-width="1.0"/>
<line x1="468.4" x2="634.4" y1="256.92" y2="256.92" stroke="#E9E9E9" stroke-width="1.0"/>
<line x1="468.4" x2="634.4" y1="252.34" y2="252.34" stroke="#E9E9E9" stroke-width="1.0"/>
<line x1="468.4" x2="634.4" y1="247.77" y2="247.77" stroke="#E9E9E9" stroke-width="1.0"/>
<polyline points="475.90,388.00 477.70,381.60 478.05,377.73" fill="none" stroke="#E0121A" stroke-width="1.6" stroke-dasharray="4.8 5.83" stroke-dashoffset="7.05" stroke-linecap="round" stroke-linejoin="round"/>
<polyline points="478.05,377.73 478.20,376.00 481.30,373.30 481.66,368.89" fill="none" stroke="#E0121A" stroke-width="1.6" stroke-dasharray="4.8 5.83" stroke-dashoffset="8.33" stroke-linecap="round" stroke-linejoin="round"/>
<polyline points="481.66,368.89 481.80,367.10 482.80,365.80 486.00,365.80 486.36,361.19" fill="none" stroke="#E0121A" stroke-width="1.6" stroke-dasharray="4.8 5.83" stroke-dashoffset="8.33" stroke-linecap="round" stroke-linejoin="round"/>
<polyline points="486.36,361.19 486.50,359.40 487.70,355.40 488.50,354.00 490.30,353.96" fill="none" stroke="#E0121A" stroke-width="1.6" stroke-dasharray="4.8 5.83" stroke-dashoffset="8.33" stroke-linecap="round" stroke-linejoin="round"/>
<polyline points="490.30,353.96 498.10,353.80 500.82,353.38" fill="none" stroke="#E0121A" stroke-width="1.6" stroke-dasharray="4.8 5.83" stroke-dashoffset="8.33" stroke-linecap="round" stroke-linejoin="round"/>
<polyline points="500.82,353.38 502.60,353.10 505.70,352.90 507.50,351.80 510.00,353.10 510.60,353.10" fill="none" stroke="#E0121A" stroke-width="1.6" stroke-dasharray="4.8 5.83" stroke-dashoffset="8.33" stroke-linecap="round" stroke-linejoin="round"/>
<polyline points="510.60,353.10 512.40,353.10 514.60,352.20 516.80,350.90 518.00,350.50 519.90,350.50" fill="none" stroke="#E0121A" stroke-width="1.6" stroke-dasharray="4.8 5.83" stroke-dashoffset="8.33" stroke-linecap="round" stroke-linejoin="round"/>
<polyline points="519.90,350.50 530.60,350.50" fill="none" stroke="#E0121A" stroke-width="1.6" stroke-dasharray="4.8 5.83" stroke-dashoffset="8.33" stroke-linecap="round" stroke-linejoin="round"/>
<polyline points="530.60,350.50 532.40,350.50 533.80,351.80 536.40,351.80 538.00,351.80 539.64,351.60" fill="none" stroke="#E0121A" stroke-width="1.6" stroke-dasharray="4.8 5.83" stroke-dashoffset="8.33" stroke-linecap="round" stroke-linejoin="round"/>
<polyline points="539.64,351.60 541.30,351.40 542.50,350.30 549.70,350.30" fill="none" stroke="#E0121A" stroke-width="1.6" stroke-dasharray="4.8 5.83" stroke-dashoffset="8.33" stroke-linecap="round" stroke-linejoin="round"/>
<polyline points="549.70,350.30 560.40,350.30" fill="none" stroke="#E0121A" stroke-width="1.6" stroke-dasharray="4.8 5.83" stroke-dashoffset="8.33" stroke-linecap="round" stroke-linejoin="round"/>
<polyline points="560.40,350.30 569.50,350.30 570.35,348.86" fill="none" stroke="#E0121A" stroke-width="1.6" stroke-dasharray="4.8 5.83" stroke-dashoffset="8.33" stroke-linecap="round" stroke-linejoin="round"/>
<polyline points="570.35,348.86 570.50,348.60 627.00,348.70" fill="none" stroke="#E0121A" stroke-width="1.6" stroke-dasharray="4.8 5.83" stroke-dashoffset="8.33" stroke-linecap="round" stroke-linejoin="round"/>
<polyline points="475.90,381.00 478.20,378.50 480.30,377.40 481.80,375.90 484.00,375.20 484.70,375.17" fill="none" stroke="#47AD45" stroke-width="1.6" stroke-dasharray="4.8 5.83" stroke-dashoffset="6.73" stroke-linecap="round" stroke-linejoin="round"/>
<polyline points="484.70,375.17 486.50,375.10 487.50,375.40 489.00,372.80 491.23,371.23" fill="none" stroke="#47AD45" stroke-width="1.6" stroke-dasharray="4.8 5.83" stroke-dashoffset="8.33" stroke-linecap="round" stroke-linejoin="round"/>
<polyline points="491.23,371.23 492.70,370.20 494.70,369.70 497.30,371.20 500.00,371.00 500.60,370.60" fill="none" stroke="#47AD45" stroke-width="1.6" stroke-dasharray="4.8 5.83" stroke-dashoffset="8.33" stroke-linecap="round" stroke-linejoin="round"/>
<polyline points="500.60,370.60 502.10,369.60 504.40,370.50 506.10,369.50 508.92,368.44" fill="none" stroke="#47AD45" stroke-width="1.6" stroke-dasharray="4.8 5.83" stroke-dashoffset="8.33" stroke-linecap="round" stroke-linejoin="round"/>
<polyline points="508.92,368.44 510.60,367.80 511.90,369.20 514.60,369.20 515.75,367.23" fill="none" stroke="#47AD45" stroke-width="1.6" stroke-dasharray="4.8 5.83" stroke-dashoffset="8.33" stroke-linecap="round" stroke-linejoin="round"/>
<polyline points="515.75,367.23 516.00,366.80 522.20,366.80 524.43,366.41" fill="none" stroke="#47AD45" stroke-width="1.6" stroke-dasharray="4.8 5.83" stroke-dashoffset="8.33" stroke-linecap="round" stroke-linejoin="round"/>
<polyline points="524.43,366.41 526.20,366.10 527.50,366.80 530.70,366.80 533.95,365.41" fill="none" stroke="#47AD45" stroke-width="1.6" stroke-dasharray="4.8 5.83" stroke-dashoffset="8.33" stroke-linecap="round" stroke-linejoin="round"/>
<polyline points="533.95,365.41 535.60,364.70 537.80,365.20 538.70,367.00 541.00,366.80 543.10,366.79" fill="none" stroke="#47AD45" stroke-width="1.6" stroke-dasharray="4.8 5.83" stroke-dashoffset="8.33" stroke-linecap="round" stroke-linejoin="round"/>
<polyline points="543.10,366.79 553.40,366.73" fill="none" stroke="#47AD45" stroke-width="1.6" stroke-dasharray="4.8 5.83" stroke-dashoffset="8.33" stroke-linecap="round" stroke-linejoin="round"/>
<polyline points="553.40,366.73 559.30,366.70 559.70,367.90 564.10,367.62" fill="none" stroke="#47AD45" stroke-width="1.6" stroke-dasharray="4.8 5.83" stroke-dashoffset="8.33" stroke-linecap="round" stroke-linejoin="round"/>
<polyline points="564.10,367.62 565.90,367.50 569.10,367.90 570.00,369.10 572.00,370.50 573.50,370.50" fill="none" stroke="#47AD45" stroke-width="1.6" stroke-dasharray="4.8 5.83" stroke-dashoffset="8.33" stroke-linecap="round" stroke-linejoin="round"/>
<polyline points="573.50,370.50 627.00,370.50" fill="none" stroke="#47AD45" stroke-width="1.6" stroke-dasharray="4.8 5.83" stroke-dashoffset="8.33" stroke-linecap="round" stroke-linejoin="round"/>
<circle cx="570.30" cy="252.80" r="1.7" fill="#B7003A"/>
<circle cx="612.60" cy="316.60" r="1.7" fill="#B7003A"/>
<circle cx="611.00" cy="318.50" r="1.7" fill="#B7003A"/>
<circle cx="603.10" cy="350.50" r="1.7" fill="#134A92"/>
<circle cx="571.50" cy="380.60" r="1.7" fill="#3DB23D"/>
<rect x="468.4" y="246.4" width="166.00" height="145.10" fill="none" stroke="#333" stroke-width="1.0"/>
<line x1="465.80" x2="468.4" y1="389.50" y2="389.50" stroke="#2A2A2A" stroke-width="1.1"/>
<text transform="translate(463.30,392.10) scale(1,1.0)" font-size="7.1" fill="#444" class="tk" text-anchor="end">0</text>
<line x1="465.80" x2="468.4" y1="371.21" y2="371.21" stroke="#2A2A2A" stroke-width="1.1"/>
<text transform="translate(463.30,373.81) scale(1,1.0)" font-size="7.1" fill="#444" class="tk" text-anchor="end">200</text>
<line x1="465.80" x2="468.4" y1="352.92" y2="352.92" stroke="#2A2A2A" stroke-width="1.1"/>
<text transform="translate(463.30,355.52) scale(1,1.0)" font-size="7.1" fill="#444" class="tk" text-anchor="end">400</text>
<line x1="465.80" x2="468.4" y1="334.64" y2="334.64" stroke="#2A2A2A" stroke-width="1.1"/>
<text transform="translate(463.30,337.24) scale(1,1.0)" font-size="7.1" fill="#444" class="tk" text-anchor="end">600</text>
<line x1="465.80" x2="468.4" y1="316.35" y2="316.35" stroke="#2A2A2A" stroke-width="1.1"/>
<text transform="translate(463.30,318.95) scale(1,1.0)" font-size="7.1" fill="#444" class="tk" text-anchor="end">800</text>
<line x1="465.80" x2="468.4" y1="298.06" y2="298.06" stroke="#2A2A2A" stroke-width="1.1"/>
<text transform="translate(463.30,300.66) scale(1,1.0)" font-size="7.1" fill="#444" class="tk" text-anchor="end">1000</text>
<line x1="465.80" x2="468.4" y1="279.77" y2="279.77" stroke="#2A2A2A" stroke-width="1.1"/>
<text transform="translate(463.30,282.37) scale(1,1.0)" font-size="7.1" fill="#444" class="tk" text-anchor="end">1200</text>
<line x1="465.80" x2="468.4" y1="261.49" y2="261.49" stroke="#2A2A2A" stroke-width="1.1"/>
<text transform="translate(463.30,264.09) scale(1,1.0)" font-size="7.1" fill="#444" class="tk" text-anchor="end">1400</text>
<line x1="475.60" x2="475.60" y1="391.5" y2="394.10" stroke="#2A2A2A" stroke-width="1.1"/>
<text transform="translate(480.00,398.80) rotate(-60) scale(1,1.0)" font-size="7.0" fill="#444" class="tk" text-anchor="end">0</text>
<line x1="485.69" x2="485.69" y1="391.5" y2="394.10" stroke="#2A2A2A" stroke-width="1.1"/>
<text transform="translate(490.09,398.80) rotate(-60) scale(1,1.0)" font-size="7.0" fill="#444" class="tk" text-anchor="end">360</text>
<line x1="495.79" x2="495.79" y1="391.5" y2="394.10" stroke="#2A2A2A" stroke-width="1.1"/>
<text transform="translate(500.19,398.80) rotate(-60) scale(1,1.0)" font-size="7.0" fill="#444" class="tk" text-anchor="end">720</text>
<line x1="505.88" x2="505.88" y1="391.5" y2="394.10" stroke="#2A2A2A" stroke-width="1.1"/>
<text transform="translate(510.28,398.80) rotate(-60) scale(1,1.0)" font-size="7.0" fill="#444" class="tk" text-anchor="end">1080</text>
<line x1="515.97" x2="515.97" y1="391.5" y2="394.10" stroke="#2A2A2A" stroke-width="1.1"/>
<text transform="translate(520.37,398.80) rotate(-60) scale(1,1.0)" font-size="7.0" fill="#444" class="tk" text-anchor="end">1440</text>
<line x1="526.07" x2="526.07" y1="391.5" y2="394.10" stroke="#2A2A2A" stroke-width="1.1"/>
<text transform="translate(530.47,398.80) rotate(-60) scale(1,1.0)" font-size="7.0" fill="#444" class="tk" text-anchor="end">1800</text>
<line x1="536.16" x2="536.16" y1="391.5" y2="394.10" stroke="#2A2A2A" stroke-width="1.1"/>
<text transform="translate(540.56,398.80) rotate(-60) scale(1,1.0)" font-size="7.0" fill="#444" class="tk" text-anchor="end">2160</text>
<line x1="546.25" x2="546.25" y1="391.5" y2="394.10" stroke="#2A2A2A" stroke-width="1.1"/>
<text transform="translate(550.65,398.80) rotate(-60) scale(1,1.0)" font-size="7.0" fill="#444" class="tk" text-anchor="end">2520</text>
<line x1="556.35" x2="556.35" y1="391.5" y2="394.10" stroke="#2A2A2A" stroke-width="1.1"/>
<text transform="translate(560.75,398.80) rotate(-60) scale(1,1.0)" font-size="7.0" fill="#444" class="tk" text-anchor="end">2880</text>
<line x1="566.44" x2="566.44" y1="391.5" y2="394.10" stroke="#2A2A2A" stroke-width="1.1"/>
<text transform="translate(570.84,398.80) rotate(-60) scale(1,1.0)" font-size="7.0" fill="#444" class="tk" text-anchor="end">3240</text>
<line x1="576.53" x2="576.53" y1="391.5" y2="394.10" stroke="#2A2A2A" stroke-width="1.1"/>
<text transform="translate(580.93,398.80) rotate(-60) scale(1,1.0)" font-size="7.0" fill="#444" class="tk" text-anchor="end">3600</text>
<line x1="586.63" x2="586.63" y1="391.5" y2="394.10" stroke="#2A2A2A" stroke-width="1.1"/>
<text transform="translate(591.03,398.80) rotate(-60) scale(1,1.0)" font-size="7.0" fill="#444" class="tk" text-anchor="end">3960</text>
<line x1="596.72" x2="596.72" y1="391.5" y2="394.10" stroke="#2A2A2A" stroke-width="1.1"/>
<text transform="translate(601.12,398.80) rotate(-60) scale(1,1.0)" font-size="7.0" fill="#444" class="tk" text-anchor="end">4320</text>
<line x1="606.81" x2="606.81" y1="391.5" y2="394.10" stroke="#2A2A2A" stroke-width="1.1"/>
<text transform="translate(611.21,398.80) rotate(-60) scale(1,1.0)" font-size="7.0" fill="#444" class="tk" text-anchor="end">4680</text>
<line x1="616.91" x2="616.91" y1="391.5" y2="394.10" stroke="#2A2A2A" stroke-width="1.1"/>
<text transform="translate(621.31,398.80) rotate(-60) scale(1,1.0)" font-size="7.0" fill="#444" class="tk" text-anchor="end">5040</text>
<line x1="627.00" x2="627.00" y1="391.5" y2="394.10" stroke="#2A2A2A" stroke-width="1.1"/>
<text transform="translate(631.40,398.80) rotate(-60) scale(1,1.0)" font-size="7.0" fill="#444" class="tk" text-anchor="end">5400</text>
<text transform="translate(551.40,423.40) scale(1,1.0)" font-size="9.9" fill="#000" class="tb" text-anchor="middle">Age (days)</text>
<text transform="translate(442.28,318.95) rotate(-90) scale(1,1.0)" font-size="9.9" fill="#000" class="tb" text-anchor="middle">Phe intake (mg)</text>
<text transform="translate(468.0,238.70) scale(1,1.0)" font-size="12.5" fill="#000" class="tb">c34, PKU</text>
</g>
<text transform="translate(-0.1,10.7) scale(1.05,1.0)" font-size="15.4" fill="#000" class="tb">A</text>
<text transform="translate(210.6,10.7) scale(1.05,1.0)" font-size="15.4" fill="#000" class="tb">B</text>
<text transform="translate(430.4,10.4) scale(1.05,1.0)" font-size="15.4" fill="#000" class="tb">C</text>
<text transform="translate(-1.5,228.8) scale(1.05,1.0)" font-size="15.4" fill="#000" class="tb">D</text>
<text transform="translate(210.7,228.8) scale(1.05,1.0)" font-size="15.4" fill="#000" class="tb">E</text>
<text transform="translate(430.2,228.8) scale(1.05,1.0)" font-size="15.4" fill="#000" class="tb">F</text>
<text transform="translate(653.9,178.9) scale(1,1.0)" font-size="9.8" fill="#000" class="tb">label</text>
<circle cx="664.3" cy="195.40" r="1.7" fill="#B7003A"/>
<text transform="translate(680.5,198.30) scale(1,1.0)" font-size="8" fill="#000" class="tb">H</text>
<circle cx="664.3" cy="217.05" r="1.7" fill="#3DB23D"/>
<text transform="translate(680.5,219.95) scale(1,1.0)" font-size="8" fill="#000" class="tb">L</text>
<circle cx="664.3" cy="238.70" r="1.7" fill="#134A92"/>
<text transform="translate(680.5,241.60) scale(1,1.0)" font-size="8" fill="#000" class="tb">N</text>
</svg></body></html>
